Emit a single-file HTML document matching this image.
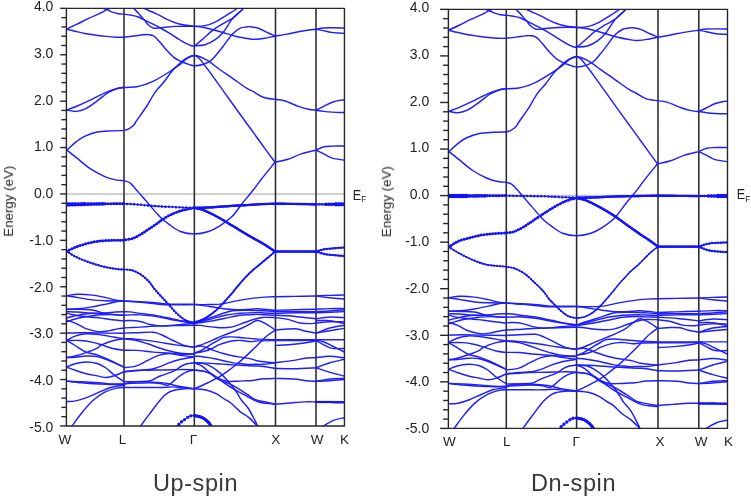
<!DOCTYPE html>
<html><head><meta charset="utf-8"><style>
html,body{margin:0;padding:0;background:#fff;width:751px;height:497px;overflow:hidden}
svg{display:block}
.txt{filter:grayscale(1)}
.ax{stroke:#262626;stroke-width:1.4;fill:none;stroke-linejoin:round}
.kv{stroke:#2a2a2a;stroke-width:1.55}
.b{stroke:#1e1eff;fill:none;stroke-linecap:round;stroke-linejoin:round}
.fb{stroke:#1212ff;fill:none;stroke-linecap:round;stroke-linejoin:round}
text{font-family:"Liberation Sans",sans-serif;fill:#222}
.tl{font-size:14px;text-anchor:end}
.kl{font-size:13.5px;text-anchor:middle}
.ef{font-size:14px}
.sub{font-size:9px}
.big{font-size:23.5px;text-anchor:middle;letter-spacing:0.6px;fill:#383838}
.yl{font-size:13.3px;text-anchor:middle}
</style></head><body>
<svg width="751" height="497" viewBox="0 0 751 497">
<clipPath id="c0"><rect x="66.40" y="8.35" width="278.05" height="417.60"/></clipPath>
<line x1="66.40" y1="193.95" x2="344.45" y2="193.95" stroke="#c2c2c2" stroke-width="1.5"/>
<line x1="124.00" y1="8.35" x2="124.00" y2="425.95" class="kv"/>
<line x1="194.35" y1="8.35" x2="194.35" y2="425.95" class="kv"/>
<line x1="275.50" y1="8.35" x2="275.50" y2="425.95" class="kv"/>
<line x1="316.00" y1="8.35" x2="316.00" y2="425.95" class="kv"/>
<g clip-path="url(#c0)">
<path d="M66.50 29.10 C68.10 28.37 72.42 26.48 76.10 24.70 C79.78 22.92 84.73 20.25 88.60 18.40 C92.47 16.55 96.57 14.90 99.30 13.60 C102.03 12.30 103.38 11.43 105.00 10.60 C106.62 9.77 107.83 9.28 109.00 8.60 C110.17 7.92 111.50 6.85 112.00 6.50" class="b" style="stroke-width:1.45"/>
<path d="M101.00 6.50 C101.33 6.78 101.78 7.58 103.00 8.20 C104.22 8.82 106.87 9.58 108.30 10.20 C109.73 10.82 109.93 11.32 111.60 11.90 C113.27 12.48 116.23 13.32 118.30 13.70 C120.37 14.08 123.05 14.12 124.00 14.20 C125.27 14.38 129.22 14.83 131.60 15.30 C133.98 15.77 136.07 16.17 138.30 17.00 C140.53 17.83 143.35 19.48 145.00 20.30 C146.65 21.12 145.80 20.70 148.20 21.90 C150.60 23.10 155.88 25.62 159.40 27.50 C162.92 29.38 166.00 31.20 169.30 33.20 C172.60 35.20 176.15 37.67 179.20 39.50 C182.25 41.33 185.10 43.13 187.60 44.20 C190.10 45.27 191.78 46.67 194.20 45.90 C196.62 45.13 198.93 42.27 202.10 39.60 C205.27 36.93 209.68 32.57 213.20 29.90 C216.72 27.23 219.85 25.60 223.20 23.60 C226.55 21.60 230.10 20.25 233.30 17.90 C236.50 15.55 240.45 11.48 242.40 9.50 C244.35 7.52 244.57 6.58 245.00 6.00" class="b" style="stroke-width:1.45"/>
<path d="M194.20 45.90 C196.02 45.72 201.60 45.83 205.10 44.80 C208.60 43.77 212.18 41.80 215.20 39.70 C218.22 37.60 220.18 35.88 223.20 32.20 C226.22 28.52 230.10 21.38 233.30 17.60 C236.50 13.82 240.45 11.43 242.40 9.50 C244.35 7.57 244.57 6.58 245.00 6.00" class="b" style="stroke-width:1.45"/>
<path d="M132.50 6.50 C132.80 6.92 133.33 7.92 134.30 9.00 C135.27 10.08 137.08 11.67 138.30 13.00 C139.52 14.33 140.48 15.70 141.60 17.00 C142.72 18.30 143.90 19.52 145.00 20.80 C146.10 22.08 146.73 23.47 148.20 24.70 C149.67 25.93 151.45 27.73 153.80 28.20 C156.15 28.67 158.55 27.80 162.30 27.50 C166.05 27.20 170.98 26.58 176.30 26.40 C181.62 26.22 189.40 26.18 194.20 26.40 C199.00 26.62 200.77 26.82 205.10 27.70 C209.43 28.58 215.17 30.28 220.20 31.70 C225.23 33.12 230.33 34.98 235.30 36.20 C240.27 37.42 246.72 38.48 250.00 39.00 C253.28 39.52 252.57 39.42 255.00 39.30 C257.43 39.18 261.25 38.82 264.60 38.30 C267.95 37.78 273.35 36.55 275.10 36.20 C277.08 35.85 282.70 34.92 287.00 34.10 C291.30 33.28 296.07 32.12 300.90 31.30 C305.73 30.48 313.48 29.55 316.00 29.20 C317.22 29.00 320.68 28.23 323.30 28.00 C325.92 27.77 328.15 27.80 331.70 27.80 C335.25 27.80 342.45 27.97 344.60 28.00" class="b" style="stroke-width:1.45"/>
<path d="M316.00 29.20 C317.22 29.43 320.68 30.07 323.30 30.60 C325.92 31.13 328.15 31.93 331.70 32.40 C335.25 32.87 342.45 33.23 344.60 33.40" class="b" style="stroke-width:1.45"/>
<path d="M142.00 6.00 C142.43 6.45 142.40 7.48 144.60 8.70 C146.80 9.92 152.30 11.98 155.20 13.30 C158.10 14.62 160.12 15.63 162.00 16.60 C163.88 17.57 163.63 17.87 166.50 19.10 C169.37 20.33 174.58 22.82 179.20 24.00 C183.82 25.18 189.88 25.93 194.20 26.20 C198.52 26.47 201.60 26.28 205.10 25.60 C208.60 24.92 211.85 23.68 215.20 22.10 C218.55 20.52 221.68 18.28 225.20 16.10 C228.72 13.92 234.08 10.68 236.30 9.00 C238.52 7.32 238.13 6.50 238.50 6.00" class="b" style="stroke-width:1.45"/>
<path d="M66.50 29.10 C68.10 29.50 72.83 30.73 76.10 31.50 C79.37 32.27 82.75 33.08 86.10 33.70 C89.45 34.32 92.85 34.75 96.20 35.20 C99.55 35.65 102.85 36.07 106.20 36.40 C109.55 36.73 113.35 37.07 116.30 37.20 C119.25 37.33 122.63 37.20 123.90 37.20 C125.60 37.00 130.92 36.40 134.10 36.00 C137.28 35.60 140.65 35.03 143.00 34.80 C145.35 34.57 146.40 34.40 148.20 34.60 C150.00 34.80 151.93 34.83 153.80 36.00 C155.67 37.17 157.28 39.25 159.40 41.60 C161.52 43.95 164.15 47.52 166.50 50.10 C168.85 52.68 171.38 55.35 173.50 57.10 C175.62 58.85 177.08 59.53 179.20 60.60 C181.32 61.67 183.73 62.65 186.20 63.50 C188.67 64.35 191.07 65.58 194.00 65.70 C196.93 65.82 201.00 65.05 203.80 64.20 C206.60 63.35 208.73 62.13 210.80 60.60 C212.87 59.07 214.13 57.38 216.20 55.00 C218.27 52.62 220.52 49.77 223.20 46.30 C225.88 42.83 229.45 37.22 232.30 34.20 C235.15 31.18 237.95 29.40 240.30 28.20 C242.65 27.00 244.68 27.25 246.40 27.00 C248.12 26.75 248.50 26.45 250.60 26.70 C252.70 26.95 256.20 27.50 259.00 28.50 C261.80 29.50 264.72 31.47 267.40 32.70 C270.08 33.93 273.82 35.37 275.10 35.90" class="b" style="stroke-width:1.45"/>
<path d="M66.90 110.00 C68.43 109.42 72.22 108.15 76.10 106.50 C79.98 104.85 85.50 102.33 90.20 100.10 C94.90 97.87 100.08 94.97 104.30 93.10 C108.52 91.23 112.30 89.83 115.50 88.90 C118.70 87.97 122.17 87.73 123.50 87.50 C125.68 87.38 132.77 87.38 136.60 86.80 C140.43 86.22 143.43 85.07 146.50 84.00 C149.57 82.93 151.23 82.40 155.00 80.40 C158.77 78.40 164.87 74.70 169.10 72.00 C173.33 69.30 177.42 66.45 180.40 64.20 C183.38 61.95 184.73 59.93 187.00 58.50 C189.27 57.07 191.83 55.88 194.00 55.60 C196.17 55.32 197.58 55.87 200.00 56.80 C202.42 57.73 205.43 59.25 208.50 61.20 C211.57 63.15 214.40 65.65 218.40 68.50 C222.40 71.35 227.82 75.02 232.50 78.30 C237.18 81.58 243.02 85.97 246.50 88.20 C249.98 90.43 250.60 90.18 253.40 91.70 C256.20 93.22 259.70 96.02 263.30 97.30 C266.90 98.58 273.05 99.05 275.00 99.40 C276.57 99.63 280.48 99.63 284.40 100.80 C288.32 101.97 294.52 104.98 298.50 106.40 C302.48 107.82 305.37 108.67 308.30 109.30 C311.23 109.93 314.80 110.05 316.10 110.20 C317.38 109.57 321.10 107.73 323.80 106.40 C326.50 105.07 329.48 103.25 332.30 102.20 C335.12 101.15 338.60 100.45 340.70 100.10 C342.80 99.75 344.20 100.10 344.90 100.10" class="b" style="stroke-width:1.45"/>
<path d="M316.10 110.20 C317.38 110.40 321.10 111.08 323.80 111.40 C326.50 111.72 328.78 111.92 332.30 112.10 C335.82 112.28 342.80 112.43 344.90 112.50" class="b" style="stroke-width:1.45"/>
<path d="M66.90 110.00 C68.43 110.23 72.93 111.63 76.10 111.40 C79.27 111.17 82.38 110.37 85.90 108.60 C89.42 106.83 93.43 103.50 97.20 100.80 C100.97 98.10 104.98 94.50 108.50 92.40 C112.02 90.30 115.80 89.02 118.30 88.20 C120.80 87.38 122.63 87.62 123.50 87.50" class="b" style="stroke-width:1.45"/>
<path d="M66.90 150.10 C68.43 148.73 73.17 144.20 76.10 141.90 C79.03 139.60 80.98 137.95 84.50 136.30 C88.02 134.65 92.73 132.90 97.20 132.00 C101.67 131.10 106.92 131.13 111.30 130.90 C115.68 130.67 121.47 130.65 123.50 130.60 C124.28 130.37 126.48 130.13 128.20 129.20 C129.92 128.27 132.40 126.43 133.80 125.00 C135.20 123.57 134.48 123.68 136.60 120.60 C138.72 117.52 143.43 111.20 146.50 106.50 C149.57 101.80 152.17 96.40 155.00 92.40 C157.83 88.40 160.68 86.02 163.50 82.50 C166.32 78.98 169.08 74.58 171.90 71.30 C174.72 68.02 177.88 65.02 180.40 62.80 C182.92 60.58 184.73 59.20 187.00 58.00 C189.27 56.80 192.00 55.57 194.00 55.60 C196.00 55.63 197.28 56.65 199.00 58.20 C200.72 59.75 202.25 62.25 204.30 64.90 C206.35 67.55 207.78 69.28 211.30 74.10 C214.82 78.92 220.70 87.23 225.40 93.80 C230.10 100.37 235.27 107.63 239.50 113.50 C243.73 119.37 247.53 124.50 250.80 129.00 C254.07 133.50 255.07 134.95 259.10 140.50 C263.13 146.05 272.35 158.67 275.00 162.30 C277.03 161.83 282.82 160.90 287.20 159.50 C291.58 158.10 296.48 155.47 301.30 153.90 C306.12 152.33 313.63 150.73 316.10 150.10 C317.38 149.55 321.10 147.47 323.80 146.80 C326.50 146.13 328.78 146.22 332.30 146.10 C335.82 145.98 342.80 146.10 344.90 146.10" class="b" style="stroke-width:1.45"/>
<path d="M316.10 150.10 C317.38 150.73 321.10 152.57 323.80 153.90 C326.50 155.23 328.78 157.05 332.30 158.10 C335.82 159.15 342.80 159.85 344.90 160.20" class="b" style="stroke-width:1.45"/>
<path d="M66.90 150.10 C68.43 151.32 72.22 154.30 76.10 157.40 C79.98 160.50 85.50 165.53 90.20 168.70 C94.90 171.87 100.08 174.53 104.30 176.40 C108.52 178.27 112.30 179.20 115.50 179.90 C118.70 180.60 122.17 180.48 123.50 180.60 C124.52 180.95 127.65 181.40 129.60 182.70 C131.55 184.00 133.32 186.35 135.20 188.40 C137.08 190.45 138.55 192.28 140.90 195.00 C143.25 197.72 146.48 201.43 149.30 204.70 C152.12 207.97 155.68 212.25 157.80 214.60 C159.92 216.95 160.12 217.17 162.00 218.80 C163.88 220.43 166.03 222.28 169.10 224.40 C172.17 226.52 176.22 229.90 180.40 231.50 C184.58 233.10 189.52 234.00 194.20 234.00 C198.88 234.00 204.23 232.87 208.50 231.50 C212.77 230.13 215.80 228.38 219.80 225.80 C223.80 223.22 228.75 219.75 232.50 216.00 C236.25 212.25 239.52 206.80 242.30 203.30 C245.08 199.80 247.08 197.58 249.20 195.00 C251.32 192.42 252.88 190.55 255.00 187.80 C257.12 185.05 258.57 182.75 261.90 178.50 C265.23 174.25 272.82 165.00 275.00 162.30" class="b" style="stroke-width:1.45"/>
<path d="M174.00 430.00 C174.92 428.95 177.60 425.53 179.50 423.70 C181.40 421.87 183.65 420.27 185.40 419.00 C187.15 417.73 188.55 416.68 190.00 416.10 C191.45 415.52 193.42 415.60 194.10 415.50" class="fb" style="stroke-width:0.80"/>
<path d="M174.00 430.00 C174.92 428.95 177.60 425.53 179.50 423.70 C181.40 421.87 183.65 420.27 185.40 419.00 C187.15 417.73 188.55 416.68 190.00 416.10 C191.45 415.52 193.42 415.60 194.10 415.50" class="fb" style="stroke-width:3.40;stroke-dasharray:0 3.70"/>
<path d="M194.10 415.50 C195.37 415.80 199.47 416.32 201.70 417.30 C203.93 418.28 205.95 419.98 207.50 421.40 C209.05 422.82 210.08 424.37 211.00 425.80 C211.92 427.23 212.67 429.30 213.00 430.00" class="fb" style="stroke-width:2.80"/>
<path d="M194.10 415.50 C195.37 415.80 199.47 416.32 201.70 417.30 C203.93 418.28 205.95 419.98 207.50 421.40 C209.05 422.82 210.08 424.37 211.00 425.80 C211.92 427.23 212.67 429.30 213.00 430.00" class="fb" style="stroke-width:3.00;stroke-dasharray:0 1.50"/>
<path d="M66.50 295.70 C68.42 295.47 73.75 294.40 78.00 294.30 C82.25 294.20 87.33 294.55 92.00 295.10 C96.67 295.65 102.12 296.80 106.00 297.60 C109.88 298.40 112.37 299.33 115.30 299.90 C118.23 300.47 122.22 300.82 123.60 301.00" class="b" style="stroke-width:1.45"/>
<path d="M66.50 295.70 C68.42 296.02 73.75 296.90 78.00 297.60 C82.25 298.30 87.33 299.37 92.00 299.90 C96.67 300.43 100.73 300.62 106.00 300.80 C111.27 300.98 120.67 300.97 123.60 301.00" class="b" style="stroke-width:1.45"/>
<path d="M66.50 309.20 C68.42 309.13 73.75 309.18 78.00 308.80 C82.25 308.42 87.33 307.68 92.00 306.90 C96.67 306.12 101.97 304.95 106.00 304.10 C110.03 303.25 113.27 302.32 116.20 301.80 C119.13 301.28 122.37 301.13 123.60 301.00" class="b" style="stroke-width:1.45"/>
<path d="M66.50 309.20 C69.18 309.23 78.05 309.23 82.60 309.40 C87.15 309.57 90.38 309.60 93.80 310.20 C97.22 310.80 99.52 312.23 103.10 313.00 C106.68 313.77 111.88 314.42 115.30 314.80 C118.72 315.18 122.22 315.22 123.60 315.30" class="b" style="stroke-width:1.45"/>
<path d="M66.50 311.60 C68.42 311.67 74.53 311.77 78.00 312.00 C81.47 312.23 84.20 312.77 87.30 313.00 C90.40 313.23 93.48 313.40 96.60 313.40 C99.72 313.40 102.88 313.23 106.00 313.00 C109.12 312.77 112.37 312.22 115.30 312.00 C118.23 311.78 122.22 311.75 123.60 311.70" class="b" style="stroke-width:1.45"/>
<path d="M66.50 313.00 C67.63 313.30 70.62 314.27 73.30 314.80 C75.98 315.33 79.48 315.80 82.60 316.20 C85.72 316.60 88.88 316.88 92.00 317.20 C95.12 317.52 98.20 317.72 101.30 318.10 C104.40 318.48 106.88 319.03 110.60 319.50 C114.32 319.97 121.43 320.67 123.60 320.90" class="b" style="stroke-width:1.45"/>
<path d="M66.50 318.10 C67.63 317.80 70.62 316.95 73.30 316.30 C75.98 315.65 79.48 314.72 82.60 314.20 C85.72 313.68 88.93 313.37 92.00 313.20 C95.07 313.03 99.50 313.20 101.00 313.20" class="b" style="stroke-width:1.45"/>
<path d="M66.50 321.80 C67.63 321.42 70.62 320.27 73.30 319.50 C75.98 318.73 79.48 317.82 82.60 317.20 C85.72 316.58 88.88 316.20 92.00 315.80 C95.12 315.40 97.97 315.00 101.30 314.80 C104.63 314.60 108.28 314.52 112.00 314.60 C115.72 314.68 121.67 315.18 123.60 315.30" class="b" style="stroke-width:1.45"/>
<path d="M66.50 320.30 C68.15 320.85 73.38 322.30 76.40 323.60 C79.42 324.90 81.85 326.93 84.60 328.10 C87.35 329.27 90.13 329.98 92.90 330.60 C95.67 331.22 98.45 331.80 101.20 331.80 C103.95 331.80 106.65 331.08 109.40 330.60 C112.15 330.12 115.28 329.32 117.70 328.90 C120.12 328.48 122.87 328.23 123.90 328.10" class="b" style="stroke-width:1.45"/>
<path d="M66.40 333.00 C68.77 332.95 75.47 332.70 80.60 332.70 C85.73 332.70 90.02 332.90 97.20 333.00 C104.38 333.10 119.28 333.25 123.70 333.30" class="b" style="stroke-width:1.45"/>
<path d="M66.40 340.50 C67.85 339.77 71.82 337.22 75.10 336.10 C78.38 334.98 82.42 334.08 86.10 333.80 C89.78 333.52 93.52 334.02 97.20 334.40 C100.88 334.78 103.78 335.37 108.20 336.10 C112.62 336.83 121.12 338.35 123.70 338.80" class="b" style="stroke-width:1.45"/>
<path d="M66.40 340.50 C68.77 340.50 76.40 340.23 80.60 340.50 C84.80 340.77 88.10 341.37 91.60 342.10 C95.10 342.83 97.90 343.78 101.60 344.90 C105.30 346.02 110.12 347.92 113.80 348.80 C117.48 349.68 122.05 349.97 123.70 350.20" class="b" style="stroke-width:1.45"/>
<path d="M66.40 340.50 C67.85 341.33 71.82 343.57 75.10 345.50 C78.38 347.43 82.42 350.53 86.10 352.10 C89.78 353.67 93.52 353.70 97.20 354.90 C100.88 356.10 103.78 357.28 108.20 359.30 C112.62 361.32 121.12 365.72 123.70 367.00" class="b" style="stroke-width:1.45"/>
<path d="M66.40 357.60 C67.85 357.33 71.82 356.83 75.10 356.00 C78.38 355.17 82.42 353.90 86.10 352.60 C89.78 351.30 94.62 349.48 97.20 348.20 C99.78 346.92 98.83 346.18 101.60 344.90 C104.37 343.62 110.12 341.52 113.80 340.50 C117.48 339.48 122.05 339.08 123.70 338.80" class="b" style="stroke-width:1.45"/>
<path d="M66.40 357.60 C67.85 357.55 71.82 357.57 75.10 357.30 C78.38 357.03 82.42 356.13 86.10 356.00 C89.78 355.87 93.22 355.67 97.20 356.50 C101.18 357.33 105.58 359.25 110.00 361.00 C114.42 362.75 121.42 366.00 123.70 367.00" class="b" style="stroke-width:1.45"/>
<path d="M66.40 367.00 C67.85 366.45 71.82 364.53 75.10 363.70 C78.38 362.87 82.42 362.03 86.10 362.00 C89.78 361.97 93.88 362.50 97.20 363.50 C100.52 364.50 103.17 366.08 106.00 368.00 C108.83 369.92 111.18 372.72 114.20 375.00 C117.22 377.28 122.45 380.58 124.10 381.70" class="b" style="stroke-width:1.45"/>
<path d="M66.40 367.00 C67.85 367.55 71.82 369.18 75.10 370.30 C78.38 371.42 82.42 372.77 86.10 373.70 C89.78 374.63 93.88 375.27 97.20 375.90 C100.52 376.53 103.17 377.52 106.00 377.50 C108.83 377.48 111.18 376.78 114.20 375.80 C117.22 374.82 122.45 372.30 124.10 371.60" class="b" style="stroke-width:1.45"/>
<path d="M66.60 381.10 C69.08 381.20 76.10 381.42 81.50 381.70 C86.90 381.98 93.75 382.42 99.00 382.80 C104.25 383.18 108.82 383.80 113.00 384.00 C117.18 384.20 122.25 384.00 124.10 384.00" class="b" style="stroke-width:1.45"/>
<path d="M66.60 381.10 C69.08 381.38 76.10 382.32 81.50 382.80 C86.90 383.28 93.75 383.72 99.00 384.00 C104.25 384.28 108.82 384.43 113.00 384.50 C117.18 384.57 122.25 384.42 124.10 384.40" class="b" style="stroke-width:1.45"/>
<path d="M66.60 401.50 C68.12 401.40 72.25 401.58 75.70 400.90 C79.15 400.22 83.42 398.85 87.30 397.40 C91.18 395.95 95.10 393.85 99.00 392.20 C102.90 390.55 106.52 388.67 110.70 387.50 C114.88 386.33 121.87 385.58 124.10 385.20" class="b" style="stroke-width:1.45"/>
<path d="M69.00 430.00 C69.53 429.30 70.12 428.60 72.20 425.80 C74.28 423.00 78.00 417.45 81.50 413.20 C85.00 408.95 89.32 403.80 93.20 400.30 C97.08 396.80 100.92 394.23 104.80 392.20 C108.68 390.17 113.28 388.88 116.50 388.10 C119.72 387.32 122.83 387.60 124.10 387.50" class="b" style="stroke-width:1.45"/>
<path d="M123.60 301.00 C126.37 301.13 134.90 301.50 140.20 301.80 C145.50 302.10 150.67 302.42 155.40 302.80 C160.13 303.18 164.38 303.85 168.60 304.10 C172.82 304.35 176.40 304.27 180.70 304.30 C185.00 304.33 192.12 304.30 194.40 304.30" class="b" style="stroke-width:1.45"/>
<path d="M123.60 301.00 C126.37 301.22 134.90 301.83 140.20 302.30 C145.50 302.77 150.67 303.38 155.40 303.80 C160.13 304.22 162.10 304.67 168.60 304.80 C175.10 304.93 190.10 304.63 194.40 304.60" class="b" style="stroke-width:1.45"/>
<path d="M123.60 311.70 C124.68 311.73 127.33 311.62 130.10 311.90 C132.87 312.18 135.98 312.82 140.20 313.40 C144.42 313.98 150.33 314.55 155.40 315.40 C160.47 316.25 166.03 317.57 170.60 318.50 C175.17 319.43 178.83 320.28 182.80 321.00 C186.77 321.72 192.47 322.50 194.40 322.80" class="b" style="stroke-width:1.45"/>
<path d="M123.60 315.30 C124.68 315.23 127.33 314.97 130.10 314.90 C132.87 314.83 135.98 314.65 140.20 314.90 C144.42 315.15 150.33 315.63 155.40 316.40 C160.47 317.17 165.53 318.57 170.60 319.50 C175.67 320.43 181.83 321.42 185.80 322.00 C189.77 322.58 192.97 322.83 194.40 323.00" class="b" style="stroke-width:1.45"/>
<path d="M123.60 320.90 C124.68 320.83 127.33 320.40 130.10 320.50 C132.87 320.60 136.82 320.83 140.20 321.50 C143.58 322.17 147.02 323.73 150.40 324.50 C153.78 325.27 157.13 325.93 160.50 326.10 C163.87 326.27 166.38 325.85 170.60 325.50 C174.82 325.15 181.83 324.33 185.80 324.00 C189.77 323.67 192.97 323.58 194.40 323.50" class="b" style="stroke-width:1.45"/>
<path d="M123.70 327.90 C124.77 327.85 127.35 327.73 130.10 327.60 C132.85 327.47 136.82 327.30 140.20 327.10 C143.58 326.90 147.02 326.60 150.40 326.40 C153.78 326.20 156.35 326.03 160.50 325.90 C164.65 325.77 169.70 325.72 175.30 325.60 C180.90 325.48 190.97 325.27 194.10 325.20" class="b" style="stroke-width:1.45"/>
<path d="M123.70 333.10 C125.85 333.03 131.68 332.85 136.60 332.70 C141.52 332.55 148.97 331.82 153.20 332.20 C157.43 332.58 158.68 333.62 162.00 335.00 C165.32 336.38 169.40 338.75 173.10 340.50 C176.80 342.25 180.70 344.40 184.20 345.50 C187.70 346.60 192.45 346.83 194.10 347.10" class="b" style="stroke-width:1.45"/>
<path d="M123.70 338.80 C124.93 338.80 128.03 338.62 131.10 338.80 C134.17 338.98 137.50 339.35 142.10 339.90 C146.70 340.45 153.17 341.27 158.70 342.10 C164.23 342.93 169.40 344.02 175.30 344.90 C181.20 345.78 190.97 346.98 194.10 347.40" class="b" style="stroke-width:1.45"/>
<path d="M123.70 338.80 C125.85 339.08 132.60 339.67 136.60 340.50 C140.60 341.33 144.02 342.60 147.70 343.80 C151.38 345.00 155.02 346.50 158.70 347.70 C162.38 348.90 166.12 350.08 169.80 351.00 C173.48 351.92 176.75 352.70 180.80 353.20 C184.85 353.70 191.88 353.87 194.10 354.00" class="b" style="stroke-width:1.45"/>
<path d="M123.70 350.20 C125.85 350.23 131.68 350.08 136.60 350.40 C141.52 350.72 147.67 351.63 153.20 352.10 C158.73 352.57 165.20 352.83 169.80 353.20 C174.40 353.57 176.75 354.12 180.80 354.30 C184.85 354.48 191.88 354.30 194.10 354.30" class="b" style="stroke-width:1.45"/>
<path d="M123.70 367.00 C124.00 367.10 123.35 367.78 125.50 367.60 C127.65 367.42 132.90 367.10 136.60 365.90 C140.30 364.70 144.02 362.15 147.70 360.40 C151.38 358.65 155.02 356.55 158.70 355.40 C162.38 354.25 166.12 353.50 169.80 353.50 C173.48 353.50 176.75 354.80 180.80 355.40 C184.85 356.00 191.88 356.82 194.10 357.10" class="b" style="stroke-width:1.45"/>
<path d="M124.10 371.60 C126.18 371.37 131.75 370.68 136.60 370.20 C141.45 369.72 147.67 369.97 153.20 368.70 C158.73 367.43 165.20 364.17 169.80 362.60 C174.40 361.03 176.75 360.22 180.80 359.30 C184.85 358.38 191.88 357.47 194.10 357.10" class="b" style="stroke-width:1.45"/>
<path d="M124.10 371.80 C127.10 371.57 135.42 370.70 142.10 370.40 C148.78 370.10 157.75 370.13 164.20 370.00 C170.65 369.87 175.82 369.63 180.80 369.60 C185.78 369.57 191.88 369.77 194.10 369.80" class="b" style="stroke-width:1.45"/>
<path d="M124.10 381.70 C125.37 381.70 127.52 381.82 131.70 381.70 C135.88 381.58 145.32 381.53 149.20 381.00 C153.08 380.47 153.05 379.37 155.00 378.50 C156.95 377.63 157.78 377.02 160.90 375.80 C164.02 374.58 170.38 372.75 173.70 371.20 C177.02 369.65 178.58 367.73 180.80 366.50 C183.02 365.27 184.78 364.42 187.00 363.80 C189.22 363.18 192.92 362.97 194.10 362.80" class="b" style="stroke-width:1.45"/>
<path d="M124.10 384.00 C125.37 383.90 127.52 383.60 131.70 383.40 C135.88 383.20 144.48 382.78 149.20 382.80 C153.92 382.82 157.08 383.10 160.00 383.50 C162.92 383.90 165.00 385.12 166.70 385.20 C168.40 385.28 168.25 385.37 170.20 384.00 C172.15 382.63 176.07 378.80 178.40 377.00 C180.73 375.20 182.27 374.23 184.20 373.20 C186.13 372.17 188.35 371.32 190.00 370.80 C191.65 370.28 193.42 370.22 194.10 370.10" class="b" style="stroke-width:1.45"/>
<path d="M124.10 384.40 C125.37 384.00 127.52 382.42 131.70 382.00 C135.88 381.58 143.37 381.67 149.20 381.90 C155.03 382.13 161.83 382.67 166.70 383.40 C171.57 384.13 173.83 385.42 178.40 386.30 C182.97 387.18 191.48 388.30 194.10 388.70" class="b" style="stroke-width:1.45"/>
<path d="M124.10 387.50 C127.30 387.50 137.17 387.50 143.30 387.50 C149.43 387.50 156.03 387.60 160.90 387.50 C165.77 387.40 168.62 386.80 172.50 386.90 C176.38 387.00 180.60 387.80 184.20 388.10 C187.80 388.40 192.45 388.60 194.10 388.70" class="b" style="stroke-width:1.45"/>
<path d="M138.00 430.00 C138.50 429.25 139.13 428.10 141.00 425.50 C142.87 422.90 145.88 418.78 149.20 414.40 C152.52 410.02 157.60 402.90 160.90 399.20 C164.20 395.50 166.48 393.77 169.00 392.20 C171.52 390.63 173.27 390.38 176.00 389.80 C178.73 389.22 182.38 388.88 185.40 388.70 C188.42 388.52 192.65 388.70 194.10 388.70" class="b" style="stroke-width:1.45"/>
<path d="M194.40 304.30 C196.18 304.35 200.80 304.63 205.10 304.60 C209.40 304.57 215.18 304.68 220.20 304.10 C225.22 303.52 230.18 302.02 235.20 301.10 C240.22 300.18 245.50 299.27 250.30 298.60 C255.10 297.93 259.82 297.40 264.00 297.10 C268.18 296.80 273.50 296.85 275.40 296.80" class="b" style="stroke-width:1.45"/>
<path d="M194.40 304.60 C196.18 304.82 200.80 305.30 205.10 305.90 C209.40 306.50 215.18 307.57 220.20 308.20 C225.22 308.83 230.18 309.53 235.20 309.70 C240.22 309.87 246.50 309.35 250.30 309.20 C254.10 309.05 253.82 308.60 258.00 308.80 C262.18 309.00 272.50 310.13 275.40 310.40" class="b" style="stroke-width:1.45"/>
<path d="M194.40 322.80 C196.18 322.20 201.65 320.30 205.10 319.20 C208.55 318.10 210.92 317.53 215.10 316.20 C219.28 314.87 225.17 312.20 230.20 311.20 C235.23 310.20 239.67 310.27 245.30 310.20 C250.93 310.13 258.98 310.57 264.00 310.80 C269.02 311.03 273.50 311.47 275.40 311.60" class="b" style="stroke-width:1.45"/>
<path d="M194.40 323.00 C197.02 322.37 204.97 320.50 210.10 319.20 C215.23 317.90 220.17 316.20 225.20 315.20 C230.23 314.20 235.27 313.63 240.30 313.20 C245.33 312.77 251.45 312.63 255.40 312.60 C259.35 312.57 260.67 312.87 264.00 313.00 C267.33 313.13 273.50 313.33 275.40 313.40" class="b" style="stroke-width:1.45"/>
<path d="M194.40 323.50 C197.02 323.12 204.97 322.08 210.10 321.20 C215.23 320.32 220.17 319.20 225.20 318.20 C230.23 317.20 235.27 315.83 240.30 315.20 C245.33 314.57 251.45 314.47 255.40 314.40 C259.35 314.33 260.67 314.67 264.00 314.80 C267.33 314.93 273.50 315.13 275.40 315.20" class="b" style="stroke-width:1.45"/>
<path d="M194.10 325.20 C195.10 325.23 196.60 325.05 200.10 325.40 C203.60 325.75 210.08 326.98 215.10 327.30 C220.12 327.62 225.17 328.15 230.20 327.30 C235.23 326.45 240.67 323.72 245.30 322.20 C249.93 320.68 254.88 319.00 258.00 318.20 C261.12 317.40 261.10 317.50 264.00 317.40 C266.90 317.30 273.50 317.57 275.40 317.60" class="b" style="stroke-width:1.45"/>
<path d="M194.25 346.90 C195.22 346.63 197.79 346.10 200.10 345.30 C202.41 344.50 205.42 343.23 208.10 342.10 C210.78 340.97 213.52 339.65 216.20 338.50 C218.88 337.35 221.52 336.28 224.20 335.20 C226.88 334.12 229.33 333.20 232.30 332.00 C235.27 330.80 239.55 329.07 242.00 328.00 C244.45 326.93 245.33 326.47 247.00 325.60 C248.67 324.73 250.17 323.65 252.00 322.80 C253.83 321.95 255.40 320.17 258.00 320.50 C260.60 320.83 264.70 323.20 267.60 324.80 C270.50 326.40 274.10 329.22 275.40 330.10" class="b" style="stroke-width:1.45"/>
<path d="M194.25 353.00 C195.22 352.67 198.19 351.88 200.10 351.00 C202.01 350.12 203.70 348.92 205.70 347.70 C207.70 346.48 209.95 344.97 212.10 343.70 C214.25 342.43 216.58 341.17 218.60 340.10 C220.62 339.03 221.92 337.83 224.20 337.30 C226.48 336.77 229.33 336.83 232.30 336.90 C235.27 336.97 237.72 337.33 242.00 337.70 C246.28 338.07 252.43 338.77 258.00 339.10 C263.57 339.43 272.50 339.60 275.40 339.70" class="b" style="stroke-width:1.45"/>
<path d="M194.25 353.00 C195.89 352.72 201.12 352.05 204.10 351.30 C207.07 350.55 209.68 349.57 212.10 348.50 C214.52 347.43 215.92 346.03 218.60 344.90 C221.28 343.77 225.25 342.43 228.20 341.70 C231.15 340.97 234.00 340.70 236.30 340.50 C238.60 340.30 239.58 340.32 242.00 340.50 C244.42 340.68 248.13 341.53 250.80 341.60 C253.47 341.67 253.90 341.07 258.00 340.90 C262.10 340.73 272.50 340.65 275.40 340.60" class="b" style="stroke-width:1.45"/>
<path d="M194.25 346.90 C195.49 346.77 199.39 345.90 201.70 346.10 C204.01 346.30 206.23 347.43 208.10 348.10 C209.97 348.77 210.22 349.15 212.90 350.10 C215.58 351.05 220.97 352.85 224.20 353.80 C227.43 354.75 229.33 355.20 232.30 355.80 C235.27 356.40 238.92 356.88 242.00 357.40 C245.08 357.92 248.13 358.30 250.80 358.90 C253.47 359.50 255.20 360.45 258.00 361.00 C260.80 361.55 264.70 361.90 267.60 362.20 C270.50 362.50 274.10 362.70 275.40 362.80" class="b" style="stroke-width:1.45"/>
<path d="M194.25 356.20 C195.89 356.33 200.44 356.53 204.10 357.00 C207.76 357.47 212.18 358.20 216.20 359.00 C220.22 359.80 224.85 361.07 228.20 361.80 C231.55 362.53 234.00 363.07 236.30 363.40 C238.60 363.73 240.22 363.63 242.00 363.80 C243.78 363.97 244.60 364.32 247.00 364.40 C249.40 364.48 253.57 364.32 256.40 364.30 C259.23 364.28 260.83 364.55 264.00 364.30 C267.17 364.05 273.50 363.05 275.40 362.80" class="b" style="stroke-width:1.45"/>
<path d="M194.10 362.80 C196.27 362.85 202.42 362.88 207.10 363.10 C211.78 363.32 217.18 363.77 222.20 364.10 C227.22 364.43 233.07 364.85 237.20 365.10 C241.33 365.35 243.80 365.45 247.00 365.60 C250.20 365.75 253.57 365.85 256.40 366.00 C259.23 366.15 260.83 366.08 264.00 366.50 C267.17 366.92 273.50 368.17 275.40 368.50" class="b" style="stroke-width:1.45"/>
<path d="M194.10 362.80 C195.42 363.35 199.50 364.55 202.00 366.10 C204.50 367.65 206.92 370.27 209.10 372.10 C211.28 373.93 213.25 375.75 215.10 377.10 C216.95 378.45 217.35 378.85 220.20 380.20 C223.05 381.55 227.73 382.87 232.20 385.20 C236.67 387.53 243.33 391.87 247.00 394.20 C250.67 396.53 251.37 397.93 254.20 399.20 C257.03 400.47 260.50 400.97 264.00 401.80 C267.50 402.63 273.33 403.80 275.20 404.20" class="b" style="stroke-width:1.45"/>
<path d="M194.10 363.10 C195.77 363.18 201.10 362.93 204.10 363.60 C207.10 364.27 209.42 365.52 212.10 367.10 C214.78 368.68 217.85 371.08 220.20 373.10 C222.55 375.12 224.20 377.02 226.20 379.20 C228.20 381.38 230.37 383.87 232.20 386.20 C234.03 388.53 235.68 390.90 237.20 393.20 C238.72 395.50 239.43 397.45 241.30 400.00 C243.17 402.55 246.05 404.93 248.40 408.50 C250.75 412.07 253.80 418.32 255.40 421.40 C257.00 424.48 257.57 426.07 258.00 427.00" class="b" style="stroke-width:1.45"/>
<path d="M194.10 370.10 C195.77 370.27 201.10 370.43 204.10 371.10 C207.10 371.77 209.77 372.92 212.10 374.10 C214.43 375.28 215.58 377.02 218.10 378.20 C220.62 379.38 224.02 380.70 227.20 381.20 C230.38 381.70 233.90 381.28 237.20 381.20 C240.50 381.12 244.48 380.82 247.00 380.70 C249.52 380.58 249.47 380.82 252.30 380.50 C255.13 380.18 260.15 379.15 264.00 378.80 C267.85 378.45 273.50 378.47 275.40 378.40" class="b" style="stroke-width:1.45"/>
<path d="M194.10 370.10 C195.77 370.32 201.10 370.65 204.10 371.40 C207.10 372.15 209.77 373.40 212.10 374.60 C214.43 375.80 216.42 377.47 218.10 378.60 C219.78 379.73 219.85 379.80 222.20 381.40 C224.55 383.00 228.07 385.72 232.20 388.20 C236.33 390.68 242.82 394.08 247.00 396.30 C251.18 398.52 254.15 400.32 257.30 401.50 C260.45 402.68 262.92 402.95 265.90 403.40 C268.88 403.85 273.65 404.07 275.20 404.20" class="b" style="stroke-width:1.45"/>
<path d="M194.10 388.70 C195.25 388.25 198.50 387.10 201.00 386.00 C203.50 384.90 206.35 383.45 209.10 382.10 C211.85 380.75 214.68 379.53 217.50 377.90 C220.32 376.27 222.70 374.65 226.00 372.30 C229.30 369.95 233.08 367.33 237.30 363.80 C241.52 360.27 247.08 355.08 251.30 351.10 C255.52 347.12 259.82 342.58 262.60 339.90 C265.38 337.22 265.87 336.63 268.00 335.00 C270.13 333.37 274.17 330.92 275.40 330.10" class="b" style="stroke-width:1.45"/>
<path d="M194.10 388.70 C196.27 388.95 203.27 389.28 207.10 390.20 C210.93 391.12 214.25 392.73 217.10 394.20 C219.95 395.67 221.92 397.53 224.20 399.00 C226.48 400.47 228.17 400.90 230.80 403.00 C233.43 405.10 237.03 409.20 240.00 411.60 C242.97 414.00 245.72 415.00 248.60 417.40 C251.48 419.80 255.57 424.23 257.30 426.00 C259.03 427.77 258.72 427.67 259.00 428.00" class="b" style="stroke-width:1.45"/>
<path d="M275.40 296.80 C278.50 296.73 287.22 296.53 294.00 296.40 C300.78 296.27 312.42 296.07 316.10 296.00" class="b" style="stroke-width:1.45"/>
<path d="M275.40 310.40 C278.50 310.30 287.22 310.00 294.00 309.80 C300.78 309.60 312.42 309.30 316.10 309.20" class="b" style="stroke-width:1.45"/>
<path d="M275.40 311.60 C278.50 311.60 287.22 311.60 294.00 311.60 C300.78 311.60 312.42 311.60 316.10 311.60" class="b" style="stroke-width:1.45"/>
<path d="M275.40 313.40 C278.50 313.30 287.22 312.90 294.00 312.80 C300.78 312.70 312.42 312.80 316.10 312.80" class="b" style="stroke-width:1.45"/>
<path d="M275.40 315.20 C277.50 315.30 283.90 315.50 288.00 315.80 C292.10 316.10 295.32 316.50 300.00 317.00 C304.68 317.50 313.42 318.50 316.10 318.80" class="b" style="stroke-width:1.45"/>
<path d="M275.40 317.60 C277.50 317.90 283.90 318.50 288.00 319.40 C292.10 320.30 296.02 322.30 300.00 323.00 C303.98 323.70 309.22 323.60 311.90 323.60 C314.58 323.60 315.40 323.10 316.10 323.00" class="b" style="stroke-width:1.45"/>
<path d="M275.40 330.10 C277.50 329.92 284.32 329.18 288.00 329.00 C291.68 328.82 294.52 328.62 297.50 329.00 C300.48 329.38 302.80 330.62 305.90 331.30 C309.00 331.98 314.40 332.80 316.10 333.10" class="b" style="stroke-width:1.45"/>
<path d="M275.40 339.70 C278.50 339.70 287.22 339.70 294.00 339.70 C300.78 339.70 312.42 339.70 316.10 339.70" class="b" style="stroke-width:1.45"/>
<path d="M275.40 340.60 C278.50 340.60 287.92 340.63 294.00 340.60 C300.08 340.57 308.22 340.43 311.90 340.40 C315.58 340.37 315.40 340.40 316.10 340.40" class="b" style="stroke-width:1.45"/>
<path d="M275.40 345.40 C278.50 345.20 287.92 344.80 294.00 344.20 C300.08 343.60 308.22 342.40 311.90 341.80 C315.58 341.20 315.40 340.80 316.10 340.60" class="b" style="stroke-width:1.45"/>
<path d="M275.40 362.80 C278.50 362.40 288.90 361.20 294.00 360.40 C299.10 359.60 302.32 358.45 306.00 358.00 C309.68 357.55 314.42 357.75 316.10 357.70" class="b" style="stroke-width:1.45"/>
<path d="M275.40 368.50 C278.50 368.55 287.22 368.92 294.00 368.80 C300.78 368.68 312.42 367.97 316.10 367.80" class="b" style="stroke-width:1.45"/>
<path d="M275.20 378.40 C278.33 378.50 288.87 378.62 294.00 379.00 C299.13 379.38 302.32 380.32 306.00 380.70 C309.68 381.08 314.42 381.20 316.10 381.30" class="b" style="stroke-width:1.45"/>
<path d="M275.20 404.20 C277.72 404.00 285.38 403.38 290.30 403.00 C295.22 402.62 300.42 402.08 304.70 401.90 C308.98 401.72 314.12 401.90 316.00 401.90" class="b" style="stroke-width:1.45"/>
<path d="M316.10 296.00 C318.40 295.90 325.20 295.57 329.90 295.40 C334.60 295.23 341.90 295.07 344.30 295.00" class="b" style="stroke-width:1.45"/>
<path d="M316.10 296.00 C318.40 296.30 325.20 297.30 329.90 297.80 C334.60 298.30 341.90 298.80 344.30 299.00" class="b" style="stroke-width:1.45"/>
<path d="M316.10 309.20 C318.40 309.10 325.20 308.70 329.90 308.60 C334.60 308.50 341.90 308.60 344.30 308.60" class="b" style="stroke-width:1.45"/>
<path d="M316.10 311.60 C318.40 311.50 325.20 311.30 329.90 311.00 C334.60 310.70 341.90 310.00 344.30 309.80" class="b" style="stroke-width:1.45"/>
<path d="M316.10 312.80 C318.40 312.70 325.20 312.40 329.90 312.20 C334.60 312.00 341.90 311.70 344.30 311.60" class="b" style="stroke-width:1.45"/>
<path d="M316.10 318.80 C318.40 318.50 325.20 317.20 329.90 317.00 C334.60 316.80 341.90 317.50 344.30 317.60" class="b" style="stroke-width:1.45"/>
<path d="M316.10 320.60 C318.40 320.60 325.20 320.10 329.90 320.60 C334.60 321.10 341.90 323.10 344.30 323.60" class="b" style="stroke-width:1.45"/>
<path d="M316.10 323.00 C318.40 322.80 325.20 322.00 329.90 321.80 C334.60 321.60 341.90 321.80 344.30 321.80" class="b" style="stroke-width:1.45"/>
<path d="M316.10 333.10 C318.40 332.25 325.20 329.28 329.90 328.00 C334.60 326.72 341.90 325.83 344.30 325.40" class="b" style="stroke-width:1.45"/>
<path d="M316.10 333.10 C318.40 332.70 325.20 331.48 329.90 330.70 C334.60 329.92 341.90 328.78 344.30 328.40" class="b" style="stroke-width:1.45"/>
<path d="M316.10 339.70 C318.40 339.70 325.20 339.70 329.90 339.70 C334.60 339.70 341.90 339.70 344.30 339.70" class="b" style="stroke-width:1.45"/>
<path d="M316.10 339.70 C317.40 340.08 321.20 340.95 323.90 342.00 C326.60 343.05 328.90 344.33 332.30 346.00 C335.70 347.67 342.30 351.00 344.30 352.00" class="b" style="stroke-width:1.45"/>
<path d="M316.10 340.40 C317.40 341.13 321.20 343.47 323.90 344.80 C326.60 346.13 328.90 347.80 332.30 348.40 C335.70 349.00 342.30 348.40 344.30 348.40" class="b" style="stroke-width:1.45"/>
<path d="M316.10 357.70 C318.40 357.45 325.20 356.15 329.90 356.20 C334.60 356.25 341.90 357.70 344.30 358.00" class="b" style="stroke-width:1.45"/>
<path d="M316.10 367.80 C318.40 366.97 325.20 364.23 329.90 362.80 C334.60 361.37 341.90 359.80 344.30 359.20" class="b" style="stroke-width:1.45"/>
<path d="M316.10 367.80 C318.40 368.57 325.20 371.03 329.90 372.40 C334.60 373.77 341.90 375.40 344.30 376.00" class="b" style="stroke-width:1.45"/>
<path d="M316.10 381.30 C318.40 381.20 325.20 381.00 329.90 380.70 C334.60 380.40 341.90 379.70 344.30 379.50" class="b" style="stroke-width:1.45"/>
<path d="M316.10 381.30 C318.40 380.92 325.20 379.48 329.90 379.00 C334.60 378.52 341.90 378.50 344.30 378.40" class="b" style="stroke-width:1.45"/>
<path d="M316.00 401.90 C318.33 401.93 325.28 402.03 330.00 402.10 C334.72 402.17 341.92 402.27 344.30 402.30" class="fb" style="stroke-width:1.90"/>
<path d="M316.00 401.90 C318.33 401.93 325.28 402.03 330.00 402.10 C334.72 402.17 341.92 402.27 344.30 402.30" class="fb" style="stroke-width:2.50;stroke-dasharray:0 2.20"/>
<path d="M322.00 428.00 C322.23 427.67 321.48 427.28 323.40 426.00 C325.32 424.72 330.02 421.68 333.50 420.30 C336.98 418.92 342.50 418.13 344.30 417.70" class="b" style="stroke-width:1.45"/>
<path d="M66.50 204.50 C67.92 204.48 71.92 204.45 75.00 204.40 C78.08 204.35 83.33 204.23 85.00 204.20" class="fb" style="stroke-width:3.30"/>
<path d="M66.50 204.50 C67.92 204.48 71.92 204.45 75.00 204.40 C78.08 204.35 83.33 204.23 85.00 204.20" class="fb" style="stroke-width:4.30;stroke-dasharray:0 2.90"/>
<path d="M85.00 204.20 C86.67 204.17 91.67 204.05 95.00 204.00 C98.33 203.95 103.33 203.92 105.00 203.90" class="fb" style="stroke-width:2.70"/>
<path d="M85.00 204.20 C86.67 204.17 91.67 204.05 95.00 204.00 C98.33 203.95 103.33 203.92 105.00 203.90" class="fb" style="stroke-width:3.60;stroke-dasharray:0 2.90"/>
<path d="M105.00 203.90 C106.67 203.88 111.92 203.83 115.00 203.80 C118.08 203.77 122.08 203.72 123.50 203.70" class="fb" style="stroke-width:2.00"/>
<path d="M105.00 203.90 C106.67 203.88 111.92 203.83 115.00 203.80 C118.08 203.77 122.08 203.72 123.50 203.70" class="fb" style="stroke-width:2.90;stroke-dasharray:0 3.00"/>
<path d="M123.50 203.70 C126.17 203.87 134.25 204.30 139.50 204.70 C144.75 205.10 150.07 205.75 155.00 206.10 C159.93 206.45 164.40 206.57 169.10 206.80 C173.80 207.03 179.02 207.33 183.20 207.50 C187.38 207.67 192.37 207.75 194.20 207.80" class="fb" style="stroke-width:1.10"/>
<path d="M123.50 203.70 C126.17 203.87 134.25 204.30 139.50 204.70 C144.75 205.10 150.07 205.75 155.00 206.10 C159.93 206.45 164.40 206.57 169.10 206.80 C173.80 207.03 179.02 207.33 183.20 207.50 C187.38 207.67 192.37 207.75 194.20 207.80" class="fb" style="stroke-width:2.50;stroke-dasharray:0 3.50"/>
<path d="M194.20 207.80 C197.05 207.72 204.92 207.63 211.30 207.30 C217.68 206.97 226.88 206.15 232.50 205.80 C238.12 205.45 240.57 205.47 245.00 205.20 C249.43 204.93 254.10 204.45 259.10 204.20 C264.10 203.95 272.35 203.78 275.00 203.70 C279.38 203.75 294.45 203.90 301.30 204.00 C308.15 204.10 313.63 204.25 316.10 204.30" class="fb" style="stroke-width:2.20"/>
<path d="M194.20 207.80 C197.05 207.72 204.92 207.63 211.30 207.30 C217.68 206.97 226.88 206.15 232.50 205.80 C238.12 205.45 240.57 205.47 245.00 205.20 C249.43 204.93 254.10 204.45 259.10 204.20 C264.10 203.95 272.35 203.78 275.00 203.70 C279.38 203.75 294.45 203.90 301.30 204.00 C308.15 204.10 313.63 204.25 316.10 204.30" class="fb" style="stroke-width:2.40;stroke-dasharray:0 1.60"/>
<path d="M316.10 204.30 C316.92 204.30 319.35 204.30 321.00 204.30 C322.65 204.30 325.17 204.30 326.00 204.30" class="fb" style="stroke-width:1.80"/>
<path d="M316.10 204.30 C316.92 204.30 319.35 204.30 321.00 204.30 C322.65 204.30 325.17 204.30 326.00 204.30" class="fb" style="stroke-width:2.60;stroke-dasharray:0 2.90"/>
<path d="M326.00 204.30 C326.83 204.30 329.33 204.30 331.00 204.30 C332.67 204.30 335.17 204.30 336.00 204.30" class="fb" style="stroke-width:2.40"/>
<path d="M326.00 204.30 C326.83 204.30 329.33 204.30 331.00 204.30 C332.67 204.30 335.17 204.30 336.00 204.30" class="fb" style="stroke-width:3.40;stroke-dasharray:0 2.90"/>
<path d="M336.00 204.30 C336.67 204.30 338.52 204.30 340.00 204.30 C341.48 204.30 344.08 204.30 344.90 204.30" class="fb" style="stroke-width:3.10"/>
<path d="M336.00 204.30 C336.67 204.30 338.52 204.30 340.00 204.30 C341.48 204.30 344.08 204.30 344.90 204.30" class="fb" style="stroke-width:4.30;stroke-dasharray:0 2.90"/>
<path d="M66.90 251.30 C68.43 250.58 72.22 248.43 76.10 247.00 C79.98 245.57 85.50 243.77 90.20 242.70 C94.90 241.63 98.75 241.02 104.30 240.60 C109.85 240.18 120.30 240.27 123.50 240.20 C124.98 239.92 129.50 239.48 132.40 238.50 C135.30 237.52 138.08 235.93 140.90 234.30 C143.72 232.67 146.48 230.58 149.30 228.70 C152.12 226.82 155.68 224.48 157.80 223.00 C159.92 221.52 160.12 221.05 162.00 219.80 C163.88 218.55 166.77 216.72 169.10 215.50 C171.43 214.28 173.65 213.38 176.00 212.50 C178.35 211.62 180.17 210.98 183.20 210.20 C186.23 209.42 192.37 208.20 194.20 207.80" class="fb" style="stroke-width:1.30"/>
<path d="M66.90 251.30 C68.43 250.58 72.22 248.43 76.10 247.00 C79.98 245.57 85.50 243.77 90.20 242.70 C94.90 241.63 98.75 241.02 104.30 240.60 C109.85 240.18 120.30 240.27 123.50 240.20 C124.98 239.92 129.50 239.48 132.40 238.50 C135.30 237.52 138.08 235.93 140.90 234.30 C143.72 232.67 146.48 230.58 149.30 228.70 C152.12 226.82 155.68 224.48 157.80 223.00 C159.92 221.52 160.12 221.05 162.00 219.80 C163.88 218.55 166.77 216.72 169.10 215.50 C171.43 214.28 173.65 213.38 176.00 212.50 C178.35 211.62 180.17 210.98 183.20 210.20 C186.23 209.42 192.37 208.20 194.20 207.80" class="fb" style="stroke-width:3.00;stroke-dasharray:0 2.90"/>
<path d="M194.20 207.80 C195.88 208.23 200.27 208.80 204.30 210.40 C208.33 212.00 213.70 214.83 218.40 217.40 C223.10 219.97 227.33 222.70 232.50 225.80 C237.67 228.90 244.35 233.05 249.40 236.00 C254.45 238.95 258.52 240.92 262.80 243.50 C267.08 246.08 273.05 250.17 275.10 251.50 C281.95 251.50 309.35 251.50 316.20 251.50" class="fb" style="stroke-width:2.20"/>
<path d="M194.20 207.80 C195.88 208.23 200.27 208.80 204.30 210.40 C208.33 212.00 213.70 214.83 218.40 217.40 C223.10 219.97 227.33 222.70 232.50 225.80 C237.67 228.90 244.35 233.05 249.40 236.00 C254.45 238.95 258.52 240.92 262.80 243.50 C267.08 246.08 273.05 250.17 275.10 251.50 C281.95 251.50 309.35 251.50 316.20 251.50" class="fb" style="stroke-width:2.40;stroke-dasharray:0 1.60"/>
<path d="M316.20 251.50 C317.75 251.10 320.85 249.75 325.50 249.10 C330.15 248.45 341.00 247.85 344.10 247.60" class="fb" style="stroke-width:1.50"/>
<path d="M316.20 251.50 C317.75 251.10 320.85 249.75 325.50 249.10 C330.15 248.45 341.00 247.85 344.10 247.60" class="fb" style="stroke-width:2.50;stroke-dasharray:0 2.80"/>
<path d="M316.20 251.50 C317.75 251.95 320.85 253.43 325.50 254.20 C330.15 254.97 341.00 255.78 344.10 256.10" class="fb" style="stroke-width:1.50"/>
<path d="M316.20 251.50 C317.75 251.95 320.85 253.43 325.50 254.20 C330.15 254.97 341.00 255.78 344.10 256.10" class="fb" style="stroke-width:2.50;stroke-dasharray:0 2.80"/>
<path d="M66.90 251.30 C68.43 252.25 72.22 255.12 76.10 257.00 C79.98 258.88 85.50 260.97 90.20 262.60 C94.90 264.23 99.62 265.70 104.30 266.80 C108.98 267.90 115.10 268.77 118.30 269.20 C121.50 269.63 122.63 269.37 123.50 269.40 C124.98 269.57 129.50 269.53 132.40 270.40 C135.30 271.27 138.08 272.67 140.90 274.60 C143.72 276.53 146.88 279.42 149.30 282.00 C151.72 284.58 152.52 286.72 155.40 290.10 C158.28 293.48 163.22 298.58 166.60 302.30 C169.98 306.02 173.00 309.70 175.70 312.40 C178.40 315.10 180.62 316.98 182.80 318.50 C184.98 320.02 186.87 320.83 188.80 321.50 C190.73 322.17 193.47 322.33 194.40 322.50" class="fb" style="stroke-width:1.20"/>
<path d="M66.90 251.30 C68.43 252.25 72.22 255.12 76.10 257.00 C79.98 258.88 85.50 260.97 90.20 262.60 C94.90 264.23 99.62 265.70 104.30 266.80 C108.98 267.90 115.10 268.77 118.30 269.20 C121.50 269.63 122.63 269.37 123.50 269.40 C124.98 269.57 129.50 269.53 132.40 270.40 C135.30 271.27 138.08 272.67 140.90 274.60 C143.72 276.53 146.88 279.42 149.30 282.00 C151.72 284.58 152.52 286.72 155.40 290.10 C158.28 293.48 163.22 298.58 166.60 302.30 C169.98 306.02 173.00 309.70 175.70 312.40 C178.40 315.10 180.62 316.98 182.80 318.50 C184.98 320.02 186.87 320.83 188.80 321.50 C190.73 322.17 193.47 322.33 194.40 322.50" class="fb" style="stroke-width:2.40;stroke-dasharray:0 2.90"/>
<path d="M194.40 322.50 C196.18 321.78 201.65 320.08 205.10 318.20 C208.55 316.32 212.08 313.72 215.10 311.20 C218.12 308.68 220.35 306.12 223.20 303.10 C226.05 300.08 230.07 295.58 232.20 293.10 C234.33 290.62 233.38 291.25 236.00 288.20 C238.62 285.15 243.92 278.78 247.90 274.80 C251.88 270.82 256.42 267.28 259.90 264.30 C263.38 261.32 266.27 259.03 268.80 256.90 C271.33 254.77 274.05 252.40 275.10 251.50" class="fb" style="stroke-width:1.60"/>
<path d="M194.40 322.50 C196.18 321.78 201.65 320.08 205.10 318.20 C208.55 316.32 212.08 313.72 215.10 311.20 C218.12 308.68 220.35 306.12 223.20 303.10 C226.05 300.08 230.07 295.58 232.20 293.10 C234.33 290.62 233.38 291.25 236.00 288.20 C238.62 285.15 243.92 278.78 247.90 274.80 C251.88 270.82 256.42 267.28 259.90 264.30 C263.38 261.32 266.27 259.03 268.80 256.90 C271.33 254.77 274.05 252.40 275.10 251.50" class="fb" style="stroke-width:2.20;stroke-dasharray:0 2.40"/>
</g>
<rect x="66.40" y="8.35" width="278.05" height="417.60" fill="none" class="ax"/>
<line x1="60.20" y1="8.35" x2="66.40" y2="8.35" class="ax"/>
<line x1="61.40" y1="17.63" x2="66.40" y2="17.63" class="ax"/>
<line x1="61.40" y1="26.91" x2="66.40" y2="26.91" class="ax"/>
<line x1="61.40" y1="36.19" x2="66.40" y2="36.19" class="ax"/>
<line x1="61.40" y1="45.47" x2="66.40" y2="45.47" class="ax"/>
<line x1="60.20" y1="54.75" x2="66.40" y2="54.75" class="ax"/>
<line x1="61.40" y1="64.03" x2="66.40" y2="64.03" class="ax"/>
<line x1="61.40" y1="73.31" x2="66.40" y2="73.31" class="ax"/>
<line x1="61.40" y1="82.59" x2="66.40" y2="82.59" class="ax"/>
<line x1="61.40" y1="91.87" x2="66.40" y2="91.87" class="ax"/>
<line x1="60.20" y1="101.15" x2="66.40" y2="101.15" class="ax"/>
<line x1="61.40" y1="110.43" x2="66.40" y2="110.43" class="ax"/>
<line x1="61.40" y1="119.71" x2="66.40" y2="119.71" class="ax"/>
<line x1="61.40" y1="128.99" x2="66.40" y2="128.99" class="ax"/>
<line x1="61.40" y1="138.27" x2="66.40" y2="138.27" class="ax"/>
<line x1="60.20" y1="147.55" x2="66.40" y2="147.55" class="ax"/>
<line x1="61.40" y1="156.83" x2="66.40" y2="156.83" class="ax"/>
<line x1="61.40" y1="166.11" x2="66.40" y2="166.11" class="ax"/>
<line x1="61.40" y1="175.39" x2="66.40" y2="175.39" class="ax"/>
<line x1="61.40" y1="184.67" x2="66.40" y2="184.67" class="ax"/>
<line x1="60.20" y1="193.95" x2="66.40" y2="193.95" class="ax"/>
<line x1="61.40" y1="203.23" x2="66.40" y2="203.23" class="ax"/>
<line x1="61.40" y1="212.51" x2="66.40" y2="212.51" class="ax"/>
<line x1="61.40" y1="221.79" x2="66.40" y2="221.79" class="ax"/>
<line x1="61.40" y1="231.07" x2="66.40" y2="231.07" class="ax"/>
<line x1="60.20" y1="240.35" x2="66.40" y2="240.35" class="ax"/>
<line x1="61.40" y1="249.63" x2="66.40" y2="249.63" class="ax"/>
<line x1="61.40" y1="258.91" x2="66.40" y2="258.91" class="ax"/>
<line x1="61.40" y1="268.19" x2="66.40" y2="268.19" class="ax"/>
<line x1="61.40" y1="277.47" x2="66.40" y2="277.47" class="ax"/>
<line x1="60.20" y1="286.75" x2="66.40" y2="286.75" class="ax"/>
<line x1="61.40" y1="296.03" x2="66.40" y2="296.03" class="ax"/>
<line x1="61.40" y1="305.31" x2="66.40" y2="305.31" class="ax"/>
<line x1="61.40" y1="314.59" x2="66.40" y2="314.59" class="ax"/>
<line x1="61.40" y1="323.87" x2="66.40" y2="323.87" class="ax"/>
<line x1="60.20" y1="333.15" x2="66.40" y2="333.15" class="ax"/>
<line x1="61.40" y1="342.43" x2="66.40" y2="342.43" class="ax"/>
<line x1="61.40" y1="351.71" x2="66.40" y2="351.71" class="ax"/>
<line x1="61.40" y1="360.99" x2="66.40" y2="360.99" class="ax"/>
<line x1="61.40" y1="370.27" x2="66.40" y2="370.27" class="ax"/>
<line x1="60.20" y1="379.55" x2="66.40" y2="379.55" class="ax"/>
<line x1="61.40" y1="388.83" x2="66.40" y2="388.83" class="ax"/>
<line x1="61.40" y1="398.11" x2="66.40" y2="398.11" class="ax"/>
<line x1="61.40" y1="407.39" x2="66.40" y2="407.39" class="ax"/>
<line x1="61.40" y1="416.67" x2="66.40" y2="416.67" class="ax"/>
<line x1="60.20" y1="425.95" x2="66.40" y2="425.95" class="ax"/>
<clipPath id="c1"><rect x="448.40" y="9.35" width="279.10" height="419.05"/></clipPath>
<line x1="448.40" y1="195.59" x2="727.50" y2="195.59" stroke="#c2c2c2" stroke-width="1.5"/>
<line x1="506.30" y1="9.35" x2="506.30" y2="428.40" class="kv"/>
<line x1="576.60" y1="9.35" x2="576.60" y2="428.40" class="kv"/>
<line x1="658.00" y1="9.35" x2="658.00" y2="428.40" class="kv"/>
<line x1="698.80" y1="9.35" x2="698.80" y2="428.40" class="kv"/>
<g clip-path="url(#c1)">
<path d="M448.50 30.17 C450.11 29.44 454.45 27.55 458.15 25.76 C461.85 23.97 466.83 21.29 470.72 19.43 C474.60 17.58 478.72 15.92 481.47 14.62 C484.22 13.31 485.58 12.44 487.20 11.61 C488.83 10.77 490.05 10.29 491.22 9.60 C492.39 8.92 493.73 7.84 494.24 7.49" class="b" style="stroke-width:1.45"/>
<path d="M483.18 7.49 C483.52 7.78 483.97 8.58 485.19 9.20 C486.41 9.82 489.08 10.59 490.52 11.21 C491.96 11.83 492.16 12.33 493.84 12.91 C495.51 13.50 498.49 14.33 500.57 14.72 C502.65 15.10 505.35 15.14 506.30 15.22 C507.57 15.40 511.51 15.86 513.89 16.32 C516.28 16.79 518.36 17.19 520.59 18.03 C522.82 18.87 525.64 20.52 527.29 21.34 C528.93 22.16 528.08 21.74 530.48 22.95 C532.88 24.15 538.16 26.68 541.67 28.57 C545.19 30.46 548.27 32.28 551.57 34.29 C554.87 36.29 558.41 38.77 561.46 40.61 C564.51 42.45 567.36 44.25 569.85 45.32 C572.35 46.39 574.03 47.80 576.45 47.03 C578.87 46.26 581.20 43.38 584.37 40.71 C587.55 38.03 591.98 33.65 595.51 30.97 C599.04 28.30 602.18 26.66 605.54 24.65 C608.90 22.65 612.46 21.29 615.67 18.93 C618.88 16.57 622.84 12.49 624.80 10.50 C626.75 8.51 626.97 7.58 627.41 6.99" class="b" style="stroke-width:1.45"/>
<path d="M576.45 47.03 C578.27 46.85 583.87 46.96 587.38 45.93 C590.89 44.89 594.49 42.92 597.51 40.81 C600.54 38.70 602.51 36.98 605.54 33.28 C608.56 29.59 612.46 22.43 615.67 18.63 C618.88 14.84 622.84 12.44 624.80 10.50 C626.75 8.56 626.97 7.58 627.41 6.99" class="b" style="stroke-width:1.45"/>
<path d="M514.79 7.49 C515.09 7.91 515.63 8.92 516.59 10.00 C517.56 11.09 519.37 12.68 520.59 14.02 C521.81 15.35 522.77 16.73 523.89 18.03 C525.00 19.33 526.19 20.56 527.29 21.84 C528.38 23.13 529.02 24.52 530.48 25.76 C531.95 26.99 533.73 28.80 536.08 29.27 C538.43 29.74 540.83 28.87 544.57 28.57 C548.32 28.27 553.25 27.65 558.56 27.46 C563.88 27.28 571.65 27.25 576.45 27.46 C581.25 27.68 583.04 27.88 587.38 28.77 C591.73 29.65 597.48 31.36 602.53 32.78 C607.58 34.20 612.69 36.08 617.68 37.30 C622.66 38.52 629.13 39.59 632.42 40.11 C635.71 40.62 635.00 40.52 637.44 40.41 C639.88 40.29 643.71 39.92 647.07 39.40 C650.43 38.89 655.84 37.65 657.60 37.30 C659.60 36.95 665.25 36.01 669.59 35.19 C673.92 34.37 678.72 33.20 683.59 32.38 C688.46 31.56 696.26 30.62 698.80 30.27 C700.03 30.07 703.52 29.30 706.16 29.07 C708.80 28.83 711.06 28.87 714.64 28.87 C718.22 28.87 725.48 29.03 727.65 29.07" class="b" style="stroke-width:1.45"/>
<path d="M698.80 30.27 C700.03 30.51 703.52 31.14 706.16 31.68 C708.80 32.21 711.06 33.02 714.64 33.48 C718.22 33.95 725.48 34.32 727.65 34.49" class="b" style="stroke-width:1.45"/>
<path d="M524.29 6.99 C524.72 7.44 524.69 8.48 526.89 9.70 C529.08 10.92 534.58 13.00 537.48 14.32 C540.38 15.64 542.39 16.66 544.27 17.63 C546.15 18.60 545.91 18.90 548.77 20.14 C551.63 21.37 556.85 23.87 561.46 25.05 C566.07 26.24 572.13 26.99 576.45 27.26 C580.77 27.53 583.87 27.35 587.38 26.66 C590.89 25.97 594.15 24.74 597.51 23.15 C600.87 21.56 604.02 19.32 607.55 17.13 C611.07 14.94 616.46 11.69 618.68 10.00 C620.90 8.31 620.52 7.49 620.89 6.99" class="b" style="stroke-width:1.45"/>
<path d="M448.50 30.17 C450.11 30.57 454.87 31.81 458.15 32.58 C461.43 33.35 464.84 34.17 468.20 34.79 C471.57 35.41 474.99 35.84 478.36 36.29 C481.72 36.74 485.04 37.16 488.41 37.50 C491.77 37.83 495.59 38.17 498.56 38.30 C501.53 38.43 504.93 38.30 506.20 38.30 C507.90 38.10 513.21 37.50 516.39 37.10 C519.57 36.69 522.94 36.13 525.29 35.89 C527.63 35.66 528.68 35.49 530.48 35.69 C532.28 35.89 534.21 35.93 536.08 37.10 C537.94 38.27 539.56 40.36 541.67 42.72 C543.79 45.07 546.42 48.65 548.77 51.24 C551.12 53.84 553.65 56.51 555.76 58.27 C557.88 60.03 559.35 60.71 561.46 61.78 C563.58 62.85 565.99 63.84 568.46 64.69 C570.92 65.54 573.31 66.78 576.25 66.90 C579.19 67.02 583.27 66.25 586.08 65.39 C588.89 64.54 591.03 63.32 593.10 61.78 C595.17 60.24 596.44 58.55 598.52 56.16 C600.59 53.77 602.85 50.91 605.54 47.43 C608.23 43.95 611.81 38.32 614.67 35.29 C617.53 32.26 620.33 30.47 622.69 29.27 C625.05 28.06 627.09 28.32 628.81 28.06 C630.53 27.81 630.92 27.51 633.02 27.76 C635.13 28.01 638.64 28.57 641.45 29.57 C644.26 30.57 647.18 32.55 649.88 33.78 C652.57 35.02 656.31 36.46 657.60 37.00" class="b" style="stroke-width:1.45"/>
<path d="M448.90 111.35 C450.44 110.77 454.25 109.50 458.15 107.84 C462.05 106.19 467.60 103.66 472.32 101.42 C477.05 99.18 482.26 96.27 486.50 94.39 C490.74 92.52 494.54 91.12 497.76 90.18 C500.97 89.24 504.46 89.01 505.80 88.77 C507.98 88.66 515.06 88.66 518.89 88.07 C522.72 87.49 525.72 86.33 528.78 85.26 C531.85 84.19 533.51 83.66 537.28 81.65 C541.04 79.64 547.14 75.93 551.37 73.22 C555.60 70.51 559.68 67.65 562.66 65.39 C565.64 63.14 566.99 61.11 569.26 59.67 C571.52 58.24 574.08 57.05 576.25 56.76 C578.42 56.48 579.84 57.03 582.27 57.97 C584.69 58.90 587.72 60.43 590.79 62.38 C593.87 64.34 596.71 66.85 600.72 69.71 C604.74 72.57 610.17 76.25 614.87 79.54 C619.57 82.84 625.42 87.24 628.91 89.48 C632.40 91.72 633.02 91.47 635.83 92.99 C638.64 94.51 642.15 97.32 645.76 98.61 C649.37 99.90 655.54 100.36 657.50 100.72 C659.08 100.95 663.02 100.95 666.97 102.12 C670.91 103.29 677.16 106.32 681.17 107.74 C685.18 109.16 688.09 110.01 691.04 110.65 C694.00 111.29 697.59 111.40 698.90 111.55 C700.20 110.92 703.94 109.08 706.67 107.74 C709.39 106.40 712.40 104.58 715.24 103.53 C718.08 102.47 721.60 101.77 723.72 101.42 C725.84 101.07 727.25 101.42 727.95 101.42" class="b" style="stroke-width:1.45"/>
<path d="M698.90 111.55 C700.20 111.75 703.94 112.44 706.67 112.76 C709.39 113.08 711.70 113.28 715.24 113.46 C718.79 113.64 725.84 113.79 727.95 113.86" class="b" style="stroke-width:1.45"/>
<path d="M448.90 111.35 C450.44 111.59 454.97 112.99 458.15 112.76 C461.33 112.52 464.47 111.72 468.00 109.95 C471.54 108.18 475.57 104.83 479.36 102.12 C483.15 99.41 487.18 95.80 490.72 93.69 C494.25 91.58 498.06 90.30 500.57 89.48 C503.08 88.66 504.93 88.89 505.80 88.77" class="b" style="stroke-width:1.45"/>
<path d="M448.90 151.59 C450.44 150.22 455.20 145.67 458.15 143.36 C461.10 141.06 463.06 139.40 466.59 137.74 C470.13 136.09 474.87 134.33 479.36 133.43 C483.85 132.53 489.13 132.56 493.53 132.33 C497.94 132.09 503.75 132.07 505.80 132.02 C506.58 131.79 508.78 131.56 510.50 130.62 C512.21 129.68 514.69 127.84 516.09 126.41 C517.49 124.97 516.78 125.08 518.89 121.99 C521.01 118.90 525.72 112.56 528.78 107.84 C531.85 103.12 534.45 97.71 537.28 93.69 C540.11 89.68 542.96 87.29 545.77 83.76 C548.59 80.23 551.35 75.81 554.17 72.52 C556.98 69.22 560.15 66.21 562.66 63.99 C565.17 61.76 566.99 60.38 569.26 59.17 C571.52 57.97 574.25 56.73 576.25 56.76 C578.25 56.80 579.54 57.82 581.26 59.37 C582.99 60.93 584.52 63.44 586.58 66.10 C588.64 68.76 590.07 70.49 593.60 75.33 C597.13 80.16 603.03 88.51 607.75 95.10 C612.46 101.69 617.64 108.98 621.89 114.87 C626.14 120.75 629.95 125.90 633.22 130.42 C636.50 134.93 637.50 136.39 641.55 141.96 C645.60 147.53 654.84 160.19 657.50 163.83 C659.55 163.37 665.37 162.43 669.79 161.02 C674.20 159.62 679.14 156.98 683.99 155.41 C688.84 153.83 696.42 152.23 698.90 151.59 C700.20 151.04 703.94 148.95 706.67 148.28 C709.39 147.61 711.70 147.70 715.24 147.58 C718.79 147.46 725.84 147.58 727.95 147.58" class="b" style="stroke-width:1.45"/>
<path d="M698.90 151.59 C700.20 152.23 703.94 154.07 706.67 155.41 C709.39 156.74 711.70 158.57 715.24 159.62 C718.79 160.67 725.84 161.38 727.95 161.73" class="b" style="stroke-width:1.45"/>
<path d="M448.90 151.59 C450.44 152.81 454.25 155.81 458.15 158.92 C462.05 162.03 467.60 167.08 472.32 170.26 C477.05 173.43 482.26 176.11 486.50 177.98 C490.74 179.86 494.54 180.79 497.76 181.50 C500.97 182.20 504.46 182.08 505.80 182.20 C506.81 182.55 509.95 183.00 511.90 184.31 C513.85 185.61 515.61 187.97 517.49 190.03 C519.37 192.08 520.84 193.92 523.19 196.65 C525.54 199.37 528.77 203.10 531.58 206.38 C534.40 209.66 537.96 213.96 540.08 216.32 C542.19 218.67 542.39 218.89 544.27 220.53 C546.15 222.17 548.30 224.03 551.37 226.15 C554.43 228.27 558.48 231.67 562.66 233.27 C566.84 234.88 571.76 235.78 576.45 235.78 C581.14 235.78 586.51 234.65 590.79 233.27 C595.07 231.90 598.12 230.15 602.13 227.56 C606.14 224.96 611.11 221.48 614.87 217.72 C618.63 213.96 621.91 208.49 624.70 204.98 C627.49 201.46 629.50 199.24 631.62 196.65 C633.74 194.06 635.31 192.18 637.44 189.42 C639.56 186.66 641.01 184.36 644.36 180.09 C647.70 175.83 655.31 166.54 657.50 163.83" class="b" style="stroke-width:1.45"/>
<path d="M556.26 432.46 C557.18 431.41 559.86 427.98 561.76 426.14 C563.66 424.30 565.91 422.70 567.66 421.43 C569.41 420.15 570.80 419.10 572.25 418.52 C573.70 417.93 575.67 418.01 576.35 417.91" class="fb" style="stroke-width:0.80"/>
<path d="M556.26 432.46 C557.18 431.41 559.86 427.98 561.76 426.14 C563.66 424.30 565.91 422.70 567.66 421.43 C569.41 420.15 570.80 419.10 572.25 418.52 C573.70 417.93 575.67 418.01 576.35 417.91" class="fb" style="stroke-width:3.40;stroke-dasharray:0 3.70"/>
<path d="M576.35 417.91 C577.62 418.21 581.73 418.73 583.97 419.72 C586.21 420.71 588.24 422.41 589.79 423.83 C591.35 425.26 592.38 426.81 593.30 428.25 C594.22 429.69 594.97 431.76 595.31 432.46" class="fb" style="stroke-width:2.80"/>
<path d="M576.35 417.91 C577.62 418.21 581.73 418.73 583.97 419.72 C586.21 420.71 588.24 422.41 589.79 423.83 C591.35 425.26 592.38 426.81 593.30 428.25 C594.22 429.69 594.97 431.76 595.31 432.46" class="fb" style="stroke-width:3.00;stroke-dasharray:0 1.50"/>
<path d="M448.50 297.70 C450.43 297.46 455.79 296.39 460.06 296.29 C464.33 296.19 469.44 296.54 474.13 297.10 C478.82 297.65 484.30 298.80 488.21 299.60 C492.11 300.41 494.61 301.34 497.55 301.91 C500.50 302.48 504.51 302.83 505.90 303.02" class="b" style="stroke-width:1.45"/>
<path d="M448.50 297.70 C450.43 298.02 455.79 298.90 460.06 299.60 C464.33 300.31 469.44 301.38 474.13 301.91 C478.82 302.45 482.91 302.63 488.21 302.82 C493.50 303.00 502.95 302.98 505.90 303.02" class="b" style="stroke-width:1.45"/>
<path d="M448.50 311.24 C450.43 311.18 455.79 311.23 460.06 310.84 C464.33 310.46 469.44 309.72 474.13 308.94 C478.82 308.15 484.15 306.98 488.21 306.13 C492.26 305.27 495.51 304.34 498.46 303.82 C501.41 303.30 504.66 303.15 505.90 303.02" class="b" style="stroke-width:1.45"/>
<path d="M448.50 311.24 C451.20 311.28 460.11 311.28 464.68 311.45 C469.26 311.61 472.51 311.65 475.94 312.25 C479.38 312.85 481.69 314.29 485.29 315.06 C488.89 315.83 494.12 316.48 497.55 316.86 C500.99 317.25 504.51 317.28 505.90 317.37" class="b" style="stroke-width:1.45"/>
<path d="M448.50 313.65 C450.43 313.72 456.58 313.82 460.06 314.05 C463.55 314.29 466.29 314.82 469.41 315.06 C472.52 315.29 475.62 315.46 478.76 315.46 C481.89 315.46 485.07 315.29 488.21 315.06 C491.34 314.82 494.61 314.27 497.55 314.05 C500.50 313.84 504.51 313.80 505.90 313.75" class="b" style="stroke-width:1.45"/>
<path d="M448.50 315.06 C449.64 315.36 452.64 316.33 455.34 316.86 C458.03 317.40 461.55 317.87 464.68 318.27 C467.82 318.67 471.00 318.95 474.13 319.27 C477.27 319.59 480.37 319.79 483.48 320.18 C486.60 320.56 489.09 321.11 492.83 321.58 C496.57 322.05 503.72 322.75 505.90 322.99" class="b" style="stroke-width:1.45"/>
<path d="M448.50 320.18 C449.64 319.87 452.64 319.02 455.34 318.37 C458.03 317.72 461.55 316.78 464.68 316.26 C467.82 315.74 471.05 315.43 474.13 315.26 C477.22 315.09 481.67 315.26 483.18 315.26" class="b" style="stroke-width:1.45"/>
<path d="M448.50 323.89 C449.64 323.50 452.64 322.35 455.34 321.58 C458.03 320.81 461.55 319.89 464.68 319.27 C467.82 318.65 471.00 318.27 474.13 317.87 C477.27 317.47 480.13 317.06 483.48 316.86 C486.83 316.66 490.50 316.58 494.24 316.66 C497.97 316.75 503.95 317.25 505.90 317.37" class="b" style="stroke-width:1.45"/>
<path d="M448.50 322.38 C450.16 322.94 455.42 324.39 458.45 325.69 C461.48 327.00 463.93 329.04 466.69 330.21 C469.46 331.38 472.26 332.10 475.04 332.72 C477.82 333.34 480.62 333.92 483.38 333.92 C486.15 333.92 488.86 333.20 491.62 332.72 C494.39 332.23 497.54 331.43 499.97 331.01 C502.40 330.59 505.16 330.34 506.20 330.21" class="b" style="stroke-width:1.45"/>
<path d="M448.40 335.13 C450.78 335.08 457.51 334.83 462.67 334.83 C467.83 334.83 472.14 335.03 479.36 335.13 C486.58 335.23 501.56 335.38 506.00 335.43" class="b" style="stroke-width:1.45"/>
<path d="M448.40 342.65 C449.86 341.92 453.84 339.36 457.15 338.24 C460.45 337.12 464.50 336.21 468.20 335.93 C471.91 335.65 475.66 336.15 479.36 336.53 C483.06 336.92 485.98 337.50 490.42 338.24 C494.86 338.97 503.40 340.50 506.00 340.95" class="b" style="stroke-width:1.45"/>
<path d="M448.40 342.65 C450.78 342.65 458.45 342.39 462.67 342.65 C466.90 342.92 470.21 343.52 473.73 344.26 C477.25 344.99 480.06 345.95 483.78 347.07 C487.50 348.19 492.34 350.10 496.05 350.98 C499.75 351.87 504.34 352.15 506.00 352.39" class="b" style="stroke-width:1.45"/>
<path d="M448.40 342.65 C449.86 343.49 453.84 345.73 457.15 347.67 C460.45 349.61 464.50 352.72 468.20 354.29 C471.91 355.87 475.66 355.90 479.36 357.10 C483.06 358.31 485.98 359.49 490.42 361.52 C494.86 363.54 503.40 367.96 506.00 369.25" class="b" style="stroke-width:1.45"/>
<path d="M448.40 359.81 C449.86 359.55 453.84 359.04 457.15 358.21 C460.45 357.37 464.50 356.10 468.20 354.80 C471.91 353.49 476.76 351.67 479.36 350.38 C481.96 349.09 481.00 348.36 483.78 347.07 C486.56 345.78 492.34 343.67 496.05 342.65 C499.75 341.63 504.34 341.23 506.00 340.95" class="b" style="stroke-width:1.45"/>
<path d="M448.40 359.81 C449.86 359.76 453.84 359.78 457.15 359.51 C460.45 359.24 464.50 358.34 468.20 358.21 C471.91 358.07 475.36 357.87 479.36 358.71 C483.36 359.55 487.79 361.47 492.23 363.22 C496.67 364.98 503.70 368.24 506.00 369.25" class="b" style="stroke-width:1.45"/>
<path d="M448.40 369.25 C449.86 368.69 453.84 366.77 457.15 365.93 C460.45 365.10 464.50 364.26 468.20 364.23 C471.91 364.19 476.03 364.73 479.36 365.73 C482.69 366.74 485.36 368.33 488.21 370.25 C491.05 372.17 493.42 374.98 496.45 377.27 C499.48 379.56 504.74 382.88 506.40 384.00" class="b" style="stroke-width:1.45"/>
<path d="M448.40 369.25 C449.86 369.80 453.84 371.44 457.15 372.56 C460.45 373.68 464.50 375.03 468.20 375.97 C471.91 376.91 476.03 377.54 479.36 378.18 C482.69 378.81 485.36 379.80 488.21 379.78 C491.05 379.77 493.42 379.06 496.45 378.08 C499.48 377.09 504.74 374.56 506.40 373.86" class="b" style="stroke-width:1.45"/>
<path d="M448.60 383.39 C451.10 383.49 458.15 383.71 463.58 384.00 C469.01 384.28 475.89 384.72 481.17 385.10 C486.45 385.48 491.04 386.10 495.24 386.30 C499.45 386.51 504.54 386.30 506.40 386.30" class="b" style="stroke-width:1.45"/>
<path d="M448.60 383.39 C451.10 383.68 458.15 384.62 463.58 385.10 C469.01 385.59 475.89 386.02 481.17 386.30 C486.45 386.59 491.04 386.74 495.24 386.81 C499.45 386.87 504.54 386.72 506.40 386.71" class="b" style="stroke-width:1.45"/>
<path d="M448.60 403.87 C450.13 403.76 454.28 403.95 457.75 403.26 C461.22 402.58 465.51 401.21 469.41 399.75 C473.31 398.30 477.25 396.19 481.17 394.53 C485.09 392.88 488.73 390.99 492.93 389.82 C497.14 388.65 504.16 387.89 506.40 387.51" class="b" style="stroke-width:1.45"/>
<path d="M451.01 432.46 C451.55 431.76 452.14 431.06 454.23 428.25 C456.32 425.44 460.06 419.87 463.58 415.61 C467.10 411.34 471.44 406.17 475.34 402.66 C479.24 399.15 483.10 396.57 487.00 394.53 C490.90 392.49 495.53 391.20 498.76 390.42 C501.99 389.63 505.13 389.92 506.40 389.82" class="b" style="stroke-width:1.45"/>
<path d="M505.90 303.02 C508.66 303.15 517.19 303.52 522.49 303.82 C527.79 304.12 532.95 304.44 537.68 304.82 C542.41 305.21 546.65 305.88 550.87 306.13 C555.08 306.38 558.66 306.29 562.96 306.33 C567.26 306.36 574.37 306.33 576.65 306.33" class="b" style="stroke-width:1.45"/>
<path d="M505.90 303.02 C508.66 303.23 517.19 303.85 522.49 304.32 C527.79 304.79 532.95 305.41 537.68 305.83 C542.41 306.24 544.37 306.70 550.87 306.83 C557.36 306.96 572.35 306.66 576.65 306.63" class="b" style="stroke-width:1.45"/>
<path d="M505.90 313.75 C506.98 313.79 509.63 313.67 512.40 313.95 C515.16 314.24 518.27 314.87 522.49 315.46 C526.70 316.04 532.61 316.61 537.68 317.47 C542.74 318.32 548.30 319.64 552.87 320.58 C557.43 321.51 561.09 322.37 565.06 323.09 C569.02 323.80 574.72 324.59 576.65 324.89" class="b" style="stroke-width:1.45"/>
<path d="M505.90 317.37 C506.98 317.30 509.63 317.03 512.40 316.96 C515.16 316.90 518.27 316.71 522.49 316.96 C526.70 317.22 532.61 317.70 537.68 318.47 C542.74 319.24 547.80 320.64 552.87 321.58 C557.93 322.52 564.09 323.50 568.06 324.09 C572.02 324.67 575.22 324.93 576.65 325.09" class="b" style="stroke-width:1.45"/>
<path d="M505.90 322.99 C506.98 322.92 509.63 322.48 512.40 322.58 C515.16 322.68 519.11 322.92 522.49 323.59 C525.87 324.26 529.30 325.83 532.68 326.60 C536.06 327.37 539.41 328.04 542.77 328.20 C546.14 328.37 548.65 327.95 552.87 327.60 C557.08 327.25 564.09 326.43 568.06 326.10 C572.02 325.76 575.22 325.68 576.65 325.59" class="b" style="stroke-width:1.45"/>
<path d="M506.00 330.01 C507.06 329.96 509.65 329.84 512.40 329.71 C515.14 329.57 519.11 329.41 522.49 329.21 C525.87 329.01 529.30 328.71 532.68 328.50 C536.06 328.30 538.63 328.14 542.77 328.00 C546.92 327.87 551.97 327.82 557.56 327.70 C563.16 327.58 573.22 327.37 576.35 327.30" class="b" style="stroke-width:1.45"/>
<path d="M506.00 335.23 C508.15 335.16 513.98 334.98 518.89 334.83 C523.80 334.68 531.25 333.94 535.48 334.32 C539.71 334.71 540.96 335.75 544.27 337.13 C547.59 338.52 551.67 340.90 555.37 342.65 C559.06 344.41 562.96 346.57 566.46 347.67 C569.95 348.77 574.70 349.01 576.35 349.28" class="b" style="stroke-width:1.45"/>
<path d="M506.00 340.95 C507.23 340.95 510.33 340.76 513.39 340.95 C516.46 341.13 519.79 341.50 524.39 342.05 C528.98 342.60 535.45 343.42 540.98 344.26 C546.50 345.10 551.67 346.18 557.56 347.07 C563.46 347.95 573.22 349.16 576.35 349.58" class="b" style="stroke-width:1.45"/>
<path d="M506.00 340.95 C508.15 341.23 514.89 341.82 518.89 342.65 C522.89 343.49 526.30 344.76 529.98 345.96 C533.66 347.17 537.29 348.67 540.98 349.88 C544.66 351.08 548.39 352.27 552.07 353.19 C555.75 354.11 559.01 354.90 563.06 355.40 C567.11 355.90 574.14 356.07 576.35 356.20" class="b" style="stroke-width:1.45"/>
<path d="M506.00 352.39 C508.15 352.42 513.98 352.27 518.89 352.59 C523.80 352.91 529.95 353.83 535.48 354.29 C541.01 354.76 547.47 355.03 552.07 355.40 C556.66 355.77 559.01 356.32 563.06 356.50 C567.11 356.69 574.14 356.50 576.35 356.50" class="b" style="stroke-width:1.45"/>
<path d="M506.00 369.25 C506.30 369.35 505.65 370.03 507.80 369.85 C509.95 369.66 515.19 369.35 518.89 368.14 C522.59 366.94 526.30 364.38 529.98 362.62 C533.66 360.87 537.29 358.76 540.98 357.61 C544.66 356.45 548.39 355.70 552.07 355.70 C555.75 355.70 559.01 357.00 563.06 357.61 C567.11 358.21 574.14 359.03 576.35 359.31" class="b" style="stroke-width:1.45"/>
<path d="M506.40 373.86 C508.48 373.63 514.04 372.94 518.89 372.46 C523.74 371.97 529.95 372.22 535.48 370.95 C541.01 369.68 547.47 366.40 552.07 364.83 C556.66 363.26 559.01 362.44 563.06 361.52 C567.11 360.60 574.14 359.68 576.35 359.31" class="b" style="stroke-width:1.45"/>
<path d="M506.40 374.06 C509.40 373.83 517.71 372.96 524.39 372.66 C531.07 372.36 540.03 372.39 546.47 372.26 C552.92 372.12 558.08 371.89 563.06 371.85 C568.04 371.82 574.14 372.02 576.35 372.06" class="b" style="stroke-width:1.45"/>
<path d="M506.40 384.00 C507.67 384.00 509.81 384.11 513.99 384.00 C518.17 383.88 527.60 383.83 531.48 383.29 C535.36 382.76 535.33 381.65 537.28 380.79 C539.23 379.92 540.06 379.30 543.17 378.08 C546.29 376.85 552.65 375.02 555.96 373.46 C559.28 371.90 560.84 369.98 563.06 368.74 C565.27 367.51 567.04 366.65 569.26 366.03 C571.47 365.42 575.17 365.20 576.35 365.03" class="b" style="stroke-width:1.45"/>
<path d="M506.40 386.30 C507.67 386.20 509.81 385.90 513.99 385.70 C518.17 385.50 526.77 385.08 531.48 385.10 C536.20 385.12 539.36 385.40 542.27 385.80 C545.19 386.20 547.27 387.42 548.97 387.51 C550.67 387.59 550.52 387.68 552.47 386.30 C554.42 384.93 558.33 381.09 560.66 379.28 C562.99 377.47 564.53 376.50 566.46 375.47 C568.39 374.43 570.60 373.58 572.25 373.06 C573.90 372.54 575.67 372.47 576.35 372.36" class="b" style="stroke-width:1.45"/>
<path d="M506.40 386.71 C507.67 386.30 509.81 384.72 513.99 384.30 C518.17 383.88 525.65 383.96 531.48 384.20 C537.31 384.43 544.11 384.97 548.97 385.70 C553.83 386.44 556.10 387.73 560.66 388.61 C565.22 389.50 573.74 390.62 576.35 391.02" class="b" style="stroke-width:1.45"/>
<path d="M506.40 389.82 C509.60 389.82 519.46 389.82 525.59 389.82 C531.72 389.82 538.31 389.92 543.17 389.82 C548.04 389.72 550.88 389.11 554.77 389.21 C558.65 389.31 562.86 390.12 566.46 390.42 C570.05 390.72 574.70 390.92 576.35 391.02" class="b" style="stroke-width:1.45"/>
<path d="M520.29 432.46 C520.79 431.71 521.42 430.56 523.29 427.95 C525.15 425.34 528.17 421.21 531.48 416.81 C534.80 412.41 539.88 405.27 543.17 401.56 C546.47 397.84 548.75 396.10 551.27 394.53 C553.78 392.96 555.53 392.71 558.26 392.12 C560.99 391.54 564.64 391.20 567.66 391.02 C570.67 390.84 574.90 391.02 576.35 391.02" class="b" style="stroke-width:1.45"/>
<path d="M576.65 306.33 C578.44 306.38 583.07 306.66 587.38 306.63 C591.70 306.60 597.50 306.71 602.53 306.13 C607.56 305.54 612.54 304.04 617.58 303.12 C622.61 302.20 627.91 301.28 632.72 300.61 C637.54 299.94 642.27 299.40 646.46 299.10 C650.66 298.80 655.99 298.85 657.90 298.80" class="b" style="stroke-width:1.45"/>
<path d="M576.65 306.63 C578.44 306.85 583.07 307.33 587.38 307.93 C591.70 308.54 597.50 309.61 602.53 310.24 C607.56 310.88 612.54 311.58 617.58 311.75 C622.61 311.91 628.91 311.40 632.72 311.24 C636.53 311.09 636.25 310.64 640.45 310.84 C644.64 311.04 654.99 312.18 657.90 312.45" class="b" style="stroke-width:1.45"/>
<path d="M576.65 324.89 C578.44 324.29 583.92 322.38 587.38 321.28 C590.84 320.18 593.22 319.61 597.41 318.27 C601.61 316.93 607.51 314.26 612.56 313.25 C617.61 312.25 622.06 312.31 627.71 312.25 C633.36 312.18 641.43 312.62 646.46 312.85 C651.50 313.08 655.99 313.52 657.90 313.65" class="b" style="stroke-width:1.45"/>
<path d="M576.65 325.09 C579.27 324.46 587.25 322.58 592.40 321.28 C597.55 319.97 602.50 318.27 607.55 317.27 C612.59 316.26 617.64 315.69 622.69 315.26 C627.74 314.82 633.88 314.69 637.84 314.66 C641.80 314.62 643.12 314.92 646.46 315.06 C649.81 315.19 655.99 315.39 657.90 315.46" class="b" style="stroke-width:1.45"/>
<path d="M576.65 325.59 C579.27 325.21 587.25 324.17 592.40 323.29 C597.55 322.40 602.50 321.28 607.55 320.28 C612.59 319.27 617.64 317.90 622.69 317.27 C627.74 316.63 633.88 316.53 637.84 316.46 C641.80 316.40 643.12 316.73 646.46 316.86 C649.81 317.00 655.99 317.20 657.90 317.27" class="b" style="stroke-width:1.45"/>
<path d="M576.35 327.30 C577.35 327.33 578.86 327.15 582.37 327.50 C585.88 327.85 592.38 329.09 597.41 329.41 C602.45 329.73 607.51 330.26 612.56 329.41 C617.61 328.55 623.06 325.81 627.71 324.29 C632.35 322.77 637.32 321.08 640.45 320.28 C643.57 319.47 643.56 319.57 646.46 319.47 C649.37 319.37 655.99 319.64 657.90 319.67" class="b" style="stroke-width:1.45"/>
<path d="M576.50 349.08 C577.48 348.81 580.05 348.27 582.37 347.47 C584.68 346.67 587.70 345.40 590.39 344.26 C593.08 343.12 595.83 341.80 598.52 340.65 C601.21 339.49 603.85 338.42 606.54 337.33 C609.23 336.25 611.69 335.44 614.67 334.12 C617.64 332.80 621.94 330.80 624.40 329.41 C626.85 328.03 627.74 327.07 629.41 325.79 C631.08 324.52 632.59 322.95 634.43 321.77 C636.27 320.60 637.84 318.55 640.45 318.77 C643.05 318.99 647.17 321.48 650.08 323.09 C652.98 324.69 656.60 327.52 657.90 328.40" class="b" style="stroke-width:1.45"/>
<path d="M576.50 355.20 C577.48 354.86 580.45 354.08 582.37 353.19 C584.28 352.30 585.98 351.10 587.98 349.88 C589.99 348.66 592.25 347.14 594.40 345.86 C596.56 344.59 598.90 343.32 600.92 342.25 C602.95 341.18 604.25 339.98 606.54 339.44 C608.83 338.91 611.69 338.97 614.67 339.04 C617.64 339.11 620.10 339.48 624.40 339.84 C628.69 340.21 634.86 340.91 640.45 341.25 C646.03 341.58 654.99 341.75 657.90 341.85" class="b" style="stroke-width:1.45"/>
<path d="M576.50 355.20 C578.15 354.91 583.40 354.24 586.38 353.49 C589.36 352.74 591.98 351.75 594.40 350.68 C596.83 349.61 598.23 348.21 600.92 347.07 C603.62 345.93 607.60 344.59 610.55 343.86 C613.51 343.12 616.37 342.85 618.68 342.65 C620.99 342.45 621.97 342.47 624.40 342.65 C626.82 342.84 630.55 343.69 633.22 343.76 C635.90 343.82 636.33 343.22 640.45 343.05 C644.56 342.89 654.99 342.80 657.90 342.75" class="b" style="stroke-width:1.45"/>
<path d="M576.50 349.08 C577.75 348.94 581.66 348.07 583.97 348.27 C586.29 348.47 588.52 349.61 590.39 350.28 C592.26 350.95 592.52 351.33 595.21 352.29 C597.90 353.24 603.30 355.05 606.54 356.00 C609.79 356.95 611.69 357.40 614.67 358.01 C617.64 358.61 621.30 359.09 624.40 359.61 C627.49 360.13 630.55 360.52 633.22 361.12 C635.90 361.72 637.64 362.67 640.45 363.22 C643.25 363.78 647.17 364.13 650.08 364.43 C652.98 364.73 656.60 364.93 657.90 365.03" class="b" style="stroke-width:1.45"/>
<path d="M576.50 358.41 C578.15 358.54 582.71 358.74 586.38 359.21 C590.05 359.68 594.49 360.41 598.52 361.22 C602.55 362.02 607.19 363.29 610.55 364.03 C613.91 364.76 616.37 365.30 618.68 365.63 C620.99 365.97 622.61 365.87 624.40 366.03 C626.19 366.20 627.00 366.55 629.41 366.64 C631.82 366.72 636.00 366.55 638.84 366.54 C641.68 366.52 643.29 366.79 646.46 366.54 C649.64 366.29 655.99 365.28 657.90 365.03" class="b" style="stroke-width:1.45"/>
<path d="M576.35 365.03 C578.52 365.08 584.69 365.11 589.39 365.33 C594.09 365.55 599.50 366.00 604.54 366.34 C609.57 366.67 615.44 367.09 619.58 367.34 C623.73 367.59 626.20 367.69 629.41 367.84 C632.62 367.99 636.00 368.09 638.84 368.24 C641.68 368.39 643.29 368.33 646.46 368.74 C649.64 369.16 655.99 370.42 657.90 370.75" class="b" style="stroke-width:1.45"/>
<path d="M576.35 365.03 C577.67 365.58 581.77 366.79 584.27 368.34 C586.78 369.90 589.21 372.52 591.40 374.36 C593.59 376.20 595.56 378.03 597.41 379.38 C599.27 380.74 599.67 381.14 602.53 382.49 C605.39 383.85 610.09 385.17 614.57 387.51 C619.05 389.85 625.73 394.23 629.41 396.54 C633.09 398.85 633.79 400.21 636.63 401.39 C639.48 402.57 642.95 402.91 646.46 403.60 C649.98 404.30 655.83 405.24 657.70 405.57" class="b" style="stroke-width:1.45"/>
<path d="M576.35 365.33 C578.02 365.42 583.37 365.16 586.38 365.83 C589.39 366.50 591.71 367.76 594.40 369.35 C597.10 370.93 600.17 373.34 602.53 375.37 C604.89 377.39 606.54 379.30 608.55 381.49 C610.55 383.68 612.73 386.17 614.57 388.51 C616.41 390.85 618.06 393.23 619.58 395.54 C621.10 397.84 621.82 399.80 623.69 402.36 C625.57 404.92 628.46 407.31 630.82 410.89 C633.17 414.47 636.23 420.74 637.84 423.83 C639.44 426.93 640.01 428.52 640.45 429.45" class="b" style="stroke-width:1.45"/>
<path d="M576.35 372.36 C578.02 372.52 583.37 372.69 586.38 373.36 C589.39 374.03 592.06 375.18 594.40 376.37 C596.75 377.56 597.90 379.30 600.42 380.48 C602.95 381.67 606.36 382.99 609.55 383.49 C612.74 384.00 616.27 383.58 619.58 383.49 C622.89 383.41 626.89 383.11 629.41 382.99 C631.94 382.88 631.89 383.11 634.73 382.79 C637.57 382.47 642.60 381.44 646.46 381.09 C650.33 380.74 655.99 380.75 657.90 380.68" class="b" style="stroke-width:1.45"/>
<path d="M576.35 372.36 C578.02 372.57 583.37 372.91 586.38 373.66 C589.39 374.41 592.06 375.67 594.40 376.87 C596.75 378.08 598.73 379.75 600.42 380.89 C602.11 382.02 602.18 382.09 604.54 383.70 C606.89 385.30 610.42 388.03 614.57 390.52 C618.71 393.01 625.22 396.42 629.41 398.65 C633.61 400.87 636.58 402.68 639.74 403.87 C642.90 405.05 645.38 405.32 648.37 405.77 C651.36 406.22 656.14 406.44 657.70 406.57" class="b" style="stroke-width:1.45"/>
<path d="M576.35 391.02 C577.50 390.51 580.76 389.20 583.27 387.97 C585.78 386.74 588.64 385.15 591.40 383.66 C594.15 382.17 597.00 380.81 599.82 379.03 C602.65 377.25 605.04 375.51 608.35 372.99 C611.66 370.47 615.45 367.66 619.68 363.90 C623.91 360.15 629.50 354.67 633.73 350.47 C637.96 346.26 642.27 341.50 645.06 338.67 C647.85 335.84 648.34 335.23 650.48 333.49 C652.62 331.74 656.66 329.08 657.90 328.20" class="b" style="stroke-width:1.45"/>
<path d="M576.35 391.02 C578.52 391.27 585.54 391.61 589.39 392.53 C593.23 393.45 596.56 395.07 599.42 396.54 C602.28 398.01 604.25 399.88 606.54 401.36 C608.83 402.83 610.52 403.26 613.16 405.37 C615.80 407.48 619.41 411.59 622.39 414.00 C625.37 416.41 628.12 417.41 631.02 419.82 C633.91 422.23 638.01 426.68 639.74 428.45 C641.48 430.22 641.16 430.12 641.45 430.46" class="b" style="stroke-width:1.45"/>
<path d="M657.90 298.80 C661.02 298.73 669.80 298.53 676.64 298.40 C683.47 298.27 695.19 298.07 698.90 298.00" class="b" style="stroke-width:1.45"/>
<path d="M657.90 312.45 C661.02 312.35 669.80 312.05 676.64 311.85 C683.47 311.65 695.19 311.34 698.90 311.24" class="b" style="stroke-width:1.45"/>
<path d="M657.90 313.65 C661.02 313.65 669.80 313.65 676.64 313.65 C683.47 313.65 695.19 313.65 698.90 313.65" class="b" style="stroke-width:1.45"/>
<path d="M657.90 315.46 C661.02 315.36 669.80 314.96 676.64 314.86 C683.47 314.76 695.19 314.86 698.90 314.86" class="b" style="stroke-width:1.45"/>
<path d="M657.90 317.27 C660.02 317.37 666.46 317.57 670.59 317.87 C674.72 318.17 677.96 318.57 682.68 319.07 C687.40 319.57 696.20 320.58 698.90 320.88" class="b" style="stroke-width:1.45"/>
<path d="M657.90 319.67 C660.02 319.97 666.46 320.58 670.59 321.48 C674.72 322.38 678.67 324.39 682.68 325.09 C686.69 325.79 691.97 325.69 694.67 325.69 C697.37 325.69 698.20 325.19 698.90 325.09" class="b" style="stroke-width:1.45"/>
<path d="M657.90 328.40 C660.02 328.26 666.88 327.66 670.59 327.55 C674.30 327.44 677.16 327.29 680.16 327.74 C683.17 328.18 685.50 329.46 688.63 330.21 C691.75 330.96 697.19 331.88 698.90 332.22" class="b" style="stroke-width:1.45"/>
<path d="M657.90 341.85 C661.02 341.85 669.80 341.85 676.64 341.85 C683.47 341.85 695.19 341.85 698.90 341.85" class="b" style="stroke-width:1.45"/>
<path d="M657.90 342.75 C661.02 342.75 670.51 342.79 676.64 342.75 C682.77 342.72 690.96 342.59 694.67 342.55 C698.38 342.52 698.20 342.55 698.90 342.55" class="b" style="stroke-width:1.45"/>
<path d="M657.90 347.57 C661.02 347.37 670.51 346.97 676.64 346.37 C682.77 345.76 690.96 344.56 694.67 343.96 C698.38 343.36 698.20 342.95 698.90 342.75" class="b" style="stroke-width:1.45"/>
<path d="M657.90 365.03 C661.02 364.63 671.50 363.43 676.64 362.62 C681.77 361.82 685.02 360.67 688.73 360.21 C692.44 359.76 697.21 359.96 698.90 359.91" class="b" style="stroke-width:1.45"/>
<path d="M657.90 370.75 C661.02 370.80 669.80 371.17 676.64 371.05 C683.47 370.93 695.19 370.22 698.90 370.05" class="b" style="stroke-width:1.45"/>
<path d="M657.70 380.68 C660.86 380.79 671.47 380.90 676.64 381.29 C681.81 381.67 685.02 382.61 688.73 382.99 C692.44 383.38 697.21 383.49 698.90 383.59" class="b" style="stroke-width:1.45"/>
<path d="M657.70 405.57 C660.23 405.37 667.96 404.75 672.91 404.37 C677.86 403.98 683.10 403.45 687.42 403.26 C691.73 403.08 696.90 403.26 698.80 403.26" class="b" style="stroke-width:1.45"/>
<path d="M698.90 298.00 C701.22 297.90 708.08 297.56 712.82 297.40 C717.56 297.23 724.93 297.06 727.35 297.00" class="b" style="stroke-width:1.45"/>
<path d="M698.90 298.00 C701.22 298.30 708.08 299.30 712.82 299.81 C717.56 300.31 724.93 300.81 727.35 301.01" class="b" style="stroke-width:1.45"/>
<path d="M698.90 311.24 C701.22 311.14 708.08 310.74 712.82 310.64 C717.56 310.54 724.93 310.64 727.35 310.64" class="b" style="stroke-width:1.45"/>
<path d="M698.90 313.65 C701.22 313.55 708.08 313.35 712.82 313.05 C717.56 312.75 724.93 312.05 727.35 311.85" class="b" style="stroke-width:1.45"/>
<path d="M698.90 314.86 C701.22 314.76 708.08 314.46 712.82 314.26 C717.56 314.05 724.93 313.75 727.35 313.65" class="b" style="stroke-width:1.45"/>
<path d="M698.90 320.88 C701.22 320.58 708.08 319.27 712.82 319.07 C717.56 318.87 724.93 319.57 727.35 319.67" class="b" style="stroke-width:1.45"/>
<path d="M698.90 322.68 C701.22 322.68 708.08 322.18 712.82 322.68 C717.56 323.19 724.93 325.19 727.35 325.69" class="b" style="stroke-width:1.45"/>
<path d="M698.90 325.09 C701.22 324.89 708.08 324.09 712.82 323.89 C717.56 323.69 724.93 323.89 727.35 323.89" class="b" style="stroke-width:1.45"/>
<path d="M698.90 332.22 C701.22 331.53 708.08 329.03 712.82 328.08 C717.56 327.13 724.93 326.76 727.35 326.50" class="b" style="stroke-width:1.45"/>
<path d="M698.90 332.22 C701.22 331.98 708.08 331.24 712.82 330.79 C717.56 330.34 724.93 329.72 727.35 329.51" class="b" style="stroke-width:1.45"/>
<path d="M698.90 341.85 C701.22 341.85 708.08 341.85 712.82 341.85 C717.56 341.85 724.93 341.85 727.35 341.85" class="b" style="stroke-width:1.45"/>
<path d="M698.90 341.85 C700.21 342.24 704.05 343.10 706.77 344.16 C709.49 345.21 711.81 346.50 715.24 348.17 C718.67 349.84 725.33 353.19 727.35 354.19" class="b" style="stroke-width:1.45"/>
<path d="M698.90 342.55 C700.21 343.29 704.05 345.63 706.77 346.97 C709.49 348.31 711.81 349.98 715.24 350.58 C718.67 351.18 725.33 350.58 727.35 350.58" class="b" style="stroke-width:1.45"/>
<path d="M698.90 359.91 C701.22 359.66 708.08 358.36 712.82 358.41 C717.56 358.46 724.93 359.91 727.35 360.21" class="b" style="stroke-width:1.45"/>
<path d="M698.90 370.05 C701.22 369.21 708.08 366.47 712.82 365.03 C717.56 363.59 724.93 362.02 727.35 361.42" class="b" style="stroke-width:1.45"/>
<path d="M698.90 370.05 C701.22 370.82 708.08 373.29 712.82 374.66 C717.56 376.04 724.93 377.67 727.35 378.28" class="b" style="stroke-width:1.45"/>
<path d="M698.90 383.59 C701.22 383.49 708.08 383.29 712.82 382.99 C717.56 382.69 724.93 381.99 727.35 381.79" class="b" style="stroke-width:1.45"/>
<path d="M698.90 383.59 C701.22 383.21 708.08 381.77 712.82 381.29 C717.56 380.80 724.93 380.79 727.35 380.68" class="b" style="stroke-width:1.45"/>
<path d="M698.80 403.36 C701.15 403.40 708.16 403.50 712.92 403.56 C717.68 403.63 724.94 403.73 727.35 403.76" class="fb" style="stroke-width:1.90"/>
<path d="M698.80 403.36 C701.15 403.40 708.16 403.50 712.92 403.56 C717.68 403.63 724.94 403.73 727.35 403.76" class="fb" style="stroke-width:2.50;stroke-dasharray:0 2.20"/>
<path d="M704.85 430.46 C705.09 430.12 704.33 429.74 706.27 428.45 C708.20 427.16 712.94 424.12 716.45 422.73 C719.97 421.34 725.53 420.56 727.35 420.12" class="b" style="stroke-width:1.45"/>
<path d="M448.90 196.00 C450.42 196.00 454.98 196.00 458.00 196.00 C461.02 196.00 465.50 196.00 467.00 196.00" class="fb" style="stroke-width:3.30"/>
<path d="M448.90 196.00 C450.42 196.00 454.98 196.00 458.00 196.00 C461.02 196.00 465.50 196.00 467.00 196.00" class="fb" style="stroke-width:4.30;stroke-dasharray:0 2.90"/>
<path d="M467.00 196.00 C468.67 195.98 473.67 195.93 477.00 195.90 C480.33 195.87 485.33 195.82 487.00 195.80" class="fb" style="stroke-width:2.70"/>
<path d="M467.00 196.00 C468.67 195.98 473.67 195.93 477.00 195.90 C480.33 195.87 485.33 195.82 487.00 195.80" class="fb" style="stroke-width:3.60;stroke-dasharray:0 2.90"/>
<path d="M487.00 195.80 C488.67 195.78 493.78 195.73 497.00 195.70 C500.22 195.67 504.75 195.62 506.30 195.60" class="fb" style="stroke-width:2.00"/>
<path d="M487.00 195.80 C488.67 195.78 493.78 195.73 497.00 195.70 C500.22 195.67 504.75 195.62 506.30 195.60" class="fb" style="stroke-width:2.90;stroke-dasharray:0 3.00"/>
<path d="M506.30 195.60 C508.83 195.67 517.55 195.92 521.50 196.00 C525.45 196.08 526.23 196.05 530.00 196.10 C533.77 196.15 539.40 196.15 544.10 196.30 C548.80 196.45 552.78 196.77 558.20 197.00 C563.62 197.23 573.53 197.58 576.60 197.70" class="fb" style="stroke-width:1.10"/>
<path d="M506.30 195.60 C508.83 195.67 517.55 195.92 521.50 196.00 C525.45 196.08 526.23 196.05 530.00 196.10 C533.77 196.15 539.40 196.15 544.10 196.30 C548.80 196.45 552.78 196.77 558.20 197.00 C563.62 197.23 573.53 197.58 576.60 197.70" class="fb" style="stroke-width:2.50;stroke-dasharray:0 3.50"/>
<path d="M576.60 197.70 C579.40 197.65 587.08 197.60 593.40 197.40 C599.72 197.20 608.40 196.72 614.50 196.50 C620.60 196.28 622.75 196.23 630.00 196.10 C637.25 195.97 653.33 195.77 658.00 195.70 C664.80 195.75 692.00 195.95 698.80 196.00" class="fb" style="stroke-width:2.20"/>
<path d="M576.60 197.70 C579.40 197.65 587.08 197.60 593.40 197.40 C599.72 197.20 608.40 196.72 614.50 196.50 C620.60 196.28 622.75 196.23 630.00 196.10 C637.25 195.97 653.33 195.77 658.00 195.70 C664.80 195.75 692.00 195.95 698.80 196.00" class="fb" style="stroke-width:2.40;stroke-dasharray:0 1.60"/>
<path d="M698.80 196.00 C699.67 196.00 702.38 196.00 704.00 196.00 C705.62 196.00 707.75 196.00 708.50 196.00" class="fb" style="stroke-width:1.80"/>
<path d="M698.80 196.00 C699.67 196.00 702.38 196.00 704.00 196.00 C705.62 196.00 707.75 196.00 708.50 196.00" class="fb" style="stroke-width:2.60;stroke-dasharray:0 2.90"/>
<path d="M708.50 196.00 C709.25 196.00 711.42 196.00 713.00 196.00 C714.58 196.00 717.17 196.00 718.00 196.00" class="fb" style="stroke-width:2.40"/>
<path d="M708.50 196.00 C709.25 196.00 711.42 196.00 713.00 196.00 C714.58 196.00 717.17 196.00 718.00 196.00" class="fb" style="stroke-width:3.40;stroke-dasharray:0 2.90"/>
<path d="M718.00 196.00 C718.83 196.00 721.42 196.00 723.00 196.00 C724.58 196.00 726.75 196.00 727.50 196.00" class="fb" style="stroke-width:3.10"/>
<path d="M718.00 196.00 C718.83 196.00 721.42 196.00 723.00 196.00 C724.58 196.00 726.75 196.00 727.50 196.00" class="fb" style="stroke-width:4.30;stroke-dasharray:0 2.90"/>
<path d="M448.90 247.00 C450.43 246.05 454.22 242.95 458.10 241.30 C461.98 239.65 467.50 238.27 472.20 237.10 C476.90 235.93 480.62 235.00 486.30 234.30 C491.98 233.60 502.97 233.13 506.30 232.90 C507.65 232.67 511.63 232.43 514.40 231.50 C517.17 230.57 520.08 228.92 522.90 227.30 C525.72 225.68 528.47 223.68 531.30 221.80 C534.13 219.92 536.60 218.15 539.90 216.00 C543.20 213.85 546.88 211.37 551.10 208.90 C555.32 206.43 560.95 203.02 565.20 201.20 C569.45 199.38 574.70 198.53 576.60 198.00" class="fb" style="stroke-width:1.30"/>
<path d="M448.90 247.00 C450.43 246.05 454.22 242.95 458.10 241.30 C461.98 239.65 467.50 238.27 472.20 237.10 C476.90 235.93 480.62 235.00 486.30 234.30 C491.98 233.60 502.97 233.13 506.30 232.90 C507.65 232.67 511.63 232.43 514.40 231.50 C517.17 230.57 520.08 228.92 522.90 227.30 C525.72 225.68 528.47 223.68 531.30 221.80 C534.13 219.92 536.60 218.15 539.90 216.00 C543.20 213.85 546.88 211.37 551.10 208.90 C555.32 206.43 560.95 203.02 565.20 201.20 C569.45 199.38 574.70 198.53 576.60 198.00" class="fb" style="stroke-width:3.00;stroke-dasharray:0 2.90"/>
<path d="M576.60 198.00 C578.22 198.42 582.33 198.92 586.30 200.50 C590.27 202.08 595.70 204.92 600.40 207.50 C605.10 210.08 610.07 213.08 614.50 216.00 C618.93 218.92 622.90 222.08 627.00 225.00 C631.10 227.92 635.45 231.00 639.10 233.50 C642.75 236.00 645.75 237.82 648.90 240.00 C652.05 242.18 656.48 245.50 658.00 246.60 C664.80 246.60 692.00 246.60 698.80 246.60" class="fb" style="stroke-width:2.20"/>
<path d="M576.60 198.00 C578.22 198.42 582.33 198.92 586.30 200.50 C590.27 202.08 595.70 204.92 600.40 207.50 C605.10 210.08 610.07 213.08 614.50 216.00 C618.93 218.92 622.90 222.08 627.00 225.00 C631.10 227.92 635.45 231.00 639.10 233.50 C642.75 236.00 645.75 237.82 648.90 240.00 C652.05 242.18 656.48 245.50 658.00 246.60 C664.80 246.60 692.00 246.60 698.80 246.60" class="fb" style="stroke-width:2.40;stroke-dasharray:0 1.60"/>
<path d="M698.80 246.60 C700.57 246.07 704.62 244.10 709.40 243.40 C714.18 242.70 724.48 242.57 727.50 242.40" class="fb" style="stroke-width:1.50"/>
<path d="M698.80 246.60 C700.57 246.07 704.62 244.10 709.40 243.40 C714.18 242.70 724.48 242.57 727.50 242.40" class="fb" style="stroke-width:2.50;stroke-dasharray:0 2.80"/>
<path d="M698.80 246.60 C700.57 247.25 704.62 249.57 709.40 250.50 C714.18 251.43 724.48 251.92 727.50 252.20" class="fb" style="stroke-width:1.50"/>
<path d="M698.80 246.60 C700.57 247.25 704.62 249.57 709.40 250.50 C714.18 251.43 724.48 251.92 727.50 252.20" class="fb" style="stroke-width:2.50;stroke-dasharray:0 2.80"/>
<path d="M448.90 247.00 C450.43 247.95 454.22 250.58 458.10 252.70 C461.98 254.82 467.50 257.72 472.20 259.70 C476.90 261.68 480.62 263.43 486.30 264.60 C491.98 265.77 502.97 266.35 506.30 266.70 C507.77 267.02 511.97 267.37 515.10 268.60 C518.23 269.83 521.75 271.67 525.10 274.10 C528.45 276.53 532.18 280.35 535.20 283.20 C538.22 286.05 540.85 288.52 543.20 291.20 C545.55 293.88 547.67 297.32 549.30 299.30 C550.93 301.28 551.20 301.30 553.00 303.10 C554.80 304.90 557.58 307.93 560.10 310.10 C562.62 312.27 565.33 314.75 568.10 316.10 C570.87 317.45 575.27 317.85 576.70 318.20" class="fb" style="stroke-width:1.20"/>
<path d="M448.90 247.00 C450.43 247.95 454.22 250.58 458.10 252.70 C461.98 254.82 467.50 257.72 472.20 259.70 C476.90 261.68 480.62 263.43 486.30 264.60 C491.98 265.77 502.97 266.35 506.30 266.70 C507.77 267.02 511.97 267.37 515.10 268.60 C518.23 269.83 521.75 271.67 525.10 274.10 C528.45 276.53 532.18 280.35 535.20 283.20 C538.22 286.05 540.85 288.52 543.20 291.20 C545.55 293.88 547.67 297.32 549.30 299.30 C550.93 301.28 551.20 301.30 553.00 303.10 C554.80 304.90 557.58 307.93 560.10 310.10 C562.62 312.27 565.33 314.75 568.10 316.10 C570.87 317.45 575.27 317.85 576.70 318.20" class="fb" style="stroke-width:2.30;stroke-dasharray:0 2.90"/>
<path d="M576.70 318.20 C578.12 317.95 582.43 317.72 585.20 316.70 C587.97 315.68 590.78 313.87 593.30 312.10 C595.82 310.33 597.95 308.45 600.30 306.10 C602.65 303.75 605.22 300.52 607.40 298.00 C609.58 295.48 611.28 293.57 613.40 291.00 C615.52 288.43 618.17 284.85 620.10 282.60 C622.03 280.35 623.35 279.27 625.00 277.50 C626.65 275.73 627.65 274.27 630.00 272.00 C632.35 269.73 635.72 267.12 639.10 263.90 C642.48 260.68 647.15 255.58 650.30 252.70 C653.45 249.82 656.72 247.62 658.00 246.60" class="fb" style="stroke-width:1.35"/>
<path d="M576.70 318.20 C578.12 317.95 582.43 317.72 585.20 316.70 C587.97 315.68 590.78 313.87 593.30 312.10 C595.82 310.33 597.95 308.45 600.30 306.10 C602.65 303.75 605.22 300.52 607.40 298.00 C609.58 295.48 611.28 293.57 613.40 291.00 C615.52 288.43 618.17 284.85 620.10 282.60 C622.03 280.35 623.35 279.27 625.00 277.50 C626.65 275.73 627.65 274.27 630.00 272.00 C632.35 269.73 635.72 267.12 639.10 263.90 C642.48 260.68 647.15 255.58 650.30 252.70 C653.45 249.82 656.72 247.62 658.00 246.60" class="fb" style="stroke-width:1.70;stroke-dasharray:0 2.40"/>
</g>
<rect x="448.40" y="9.35" width="279.10" height="419.05" fill="none" class="ax"/>
<line x1="440.10" y1="9.35" x2="448.40" y2="9.35" class="ax"/>
<line x1="443.10" y1="18.66" x2="448.40" y2="18.66" class="ax"/>
<line x1="443.10" y1="27.97" x2="448.40" y2="27.97" class="ax"/>
<line x1="443.10" y1="37.29" x2="448.40" y2="37.29" class="ax"/>
<line x1="443.10" y1="46.60" x2="448.40" y2="46.60" class="ax"/>
<line x1="440.10" y1="55.91" x2="448.40" y2="55.91" class="ax"/>
<line x1="443.10" y1="65.22" x2="448.40" y2="65.22" class="ax"/>
<line x1="443.10" y1="74.54" x2="448.40" y2="74.54" class="ax"/>
<line x1="443.10" y1="83.85" x2="448.40" y2="83.85" class="ax"/>
<line x1="443.10" y1="93.16" x2="448.40" y2="93.16" class="ax"/>
<line x1="440.10" y1="102.47" x2="448.40" y2="102.47" class="ax"/>
<line x1="443.10" y1="111.78" x2="448.40" y2="111.78" class="ax"/>
<line x1="443.10" y1="121.10" x2="448.40" y2="121.10" class="ax"/>
<line x1="443.10" y1="130.41" x2="448.40" y2="130.41" class="ax"/>
<line x1="443.10" y1="139.72" x2="448.40" y2="139.72" class="ax"/>
<line x1="440.10" y1="149.03" x2="448.40" y2="149.03" class="ax"/>
<line x1="443.10" y1="158.35" x2="448.40" y2="158.35" class="ax"/>
<line x1="443.10" y1="167.66" x2="448.40" y2="167.66" class="ax"/>
<line x1="443.10" y1="176.97" x2="448.40" y2="176.97" class="ax"/>
<line x1="443.10" y1="186.28" x2="448.40" y2="186.28" class="ax"/>
<line x1="440.10" y1="195.59" x2="448.40" y2="195.59" class="ax"/>
<line x1="443.10" y1="204.91" x2="448.40" y2="204.91" class="ax"/>
<line x1="443.10" y1="214.22" x2="448.40" y2="214.22" class="ax"/>
<line x1="443.10" y1="223.53" x2="448.40" y2="223.53" class="ax"/>
<line x1="443.10" y1="232.84" x2="448.40" y2="232.84" class="ax"/>
<line x1="440.10" y1="242.16" x2="448.40" y2="242.16" class="ax"/>
<line x1="443.10" y1="251.47" x2="448.40" y2="251.47" class="ax"/>
<line x1="443.10" y1="260.78" x2="448.40" y2="260.78" class="ax"/>
<line x1="443.10" y1="270.09" x2="448.40" y2="270.09" class="ax"/>
<line x1="443.10" y1="279.40" x2="448.40" y2="279.40" class="ax"/>
<line x1="440.10" y1="288.72" x2="448.40" y2="288.72" class="ax"/>
<line x1="443.10" y1="298.03" x2="448.40" y2="298.03" class="ax"/>
<line x1="443.10" y1="307.34" x2="448.40" y2="307.34" class="ax"/>
<line x1="443.10" y1="316.65" x2="448.40" y2="316.65" class="ax"/>
<line x1="443.10" y1="325.97" x2="448.40" y2="325.97" class="ax"/>
<line x1="440.10" y1="335.28" x2="448.40" y2="335.28" class="ax"/>
<line x1="443.10" y1="344.59" x2="448.40" y2="344.59" class="ax"/>
<line x1="443.10" y1="353.90" x2="448.40" y2="353.90" class="ax"/>
<line x1="443.10" y1="363.21" x2="448.40" y2="363.21" class="ax"/>
<line x1="443.10" y1="372.53" x2="448.40" y2="372.53" class="ax"/>
<line x1="440.10" y1="381.84" x2="448.40" y2="381.84" class="ax"/>
<line x1="443.10" y1="391.15" x2="448.40" y2="391.15" class="ax"/>
<line x1="443.10" y1="400.46" x2="448.40" y2="400.46" class="ax"/>
<line x1="443.10" y1="409.78" x2="448.40" y2="409.78" class="ax"/>
<line x1="443.10" y1="419.09" x2="448.40" y2="419.09" class="ax"/>
<line x1="440.10" y1="428.40" x2="448.40" y2="428.40" class="ax"/>
<g class="txt">
<text x="53.40" y="11.00" class="tl">4.0</text>
<text x="53.40" y="57.76" class="tl">3.0</text>
<text x="53.40" y="104.52" class="tl">2.0</text>
<text x="53.40" y="151.28" class="tl">1.0</text>
<text x="53.40" y="198.04" class="tl">0.0</text>
<text x="53.40" y="244.80" class="tl">-1.0</text>
<text x="53.40" y="291.56" class="tl">-2.0</text>
<text x="53.40" y="338.32" class="tl">-3.0</text>
<text x="53.40" y="385.08" class="tl">-4.0</text>
<text x="53.40" y="431.84" class="tl">-5.0</text>
<text x="64.95" y="443.60" class="kl">W</text>
<text x="122.40" y="443.60" class="kl">L</text>
<text x="193.45" y="443.60" class="kl">Γ</text>
<text x="275.85" y="443.60" class="kl">X</text>
<text x="317.20" y="443.60" class="kl">W</text>
<text x="344.50" y="443.60" class="kl">K</text>
<text transform="translate(352.80,199.90) scale(0.9,1)" class="ef">E<tspan class="sub" dy="2.4">F</tspan></text>
<text x="429.30" y="12.20" class="tl">4.0</text>
<text x="429.30" y="58.96" class="tl">3.0</text>
<text x="429.30" y="105.72" class="tl">2.0</text>
<text x="429.30" y="152.48" class="tl">1.0</text>
<text x="429.30" y="199.24" class="tl">0.0</text>
<text x="429.30" y="246.00" class="tl">-1.0</text>
<text x="429.30" y="292.76" class="tl">-2.0</text>
<text x="429.30" y="339.52" class="tl">-3.0</text>
<text x="429.30" y="386.28" class="tl">-4.0</text>
<text x="429.30" y="433.04" class="tl">-5.0</text>
<text x="449.30" y="446.00" class="kl">W</text>
<text x="506.70" y="446.00" class="kl">L</text>
<text x="576.30" y="446.00" class="kl">Γ</text>
<text x="660.10" y="446.00" class="kl">X</text>
<text x="701.20" y="446.00" class="kl">W</text>
<text x="728.40" y="446.00" class="kl">K</text>
<text transform="translate(736.80,199.20) scale(0.9,1)" class="ef">E<tspan class="sub" dy="2.4">F</tspan></text>
<text x="195.5" y="491" class="big">Up-spin</text>
<text x="573.5" y="491" class="big">Dn-spin</text>
<text transform="translate(12.9,201.25) rotate(-90)" class="yl">Energy (eV)</text>
<text transform="translate(390.9,201.6) rotate(-90)" class="yl">Energy (eV)</text>
</g>
</svg>
</body></html>
